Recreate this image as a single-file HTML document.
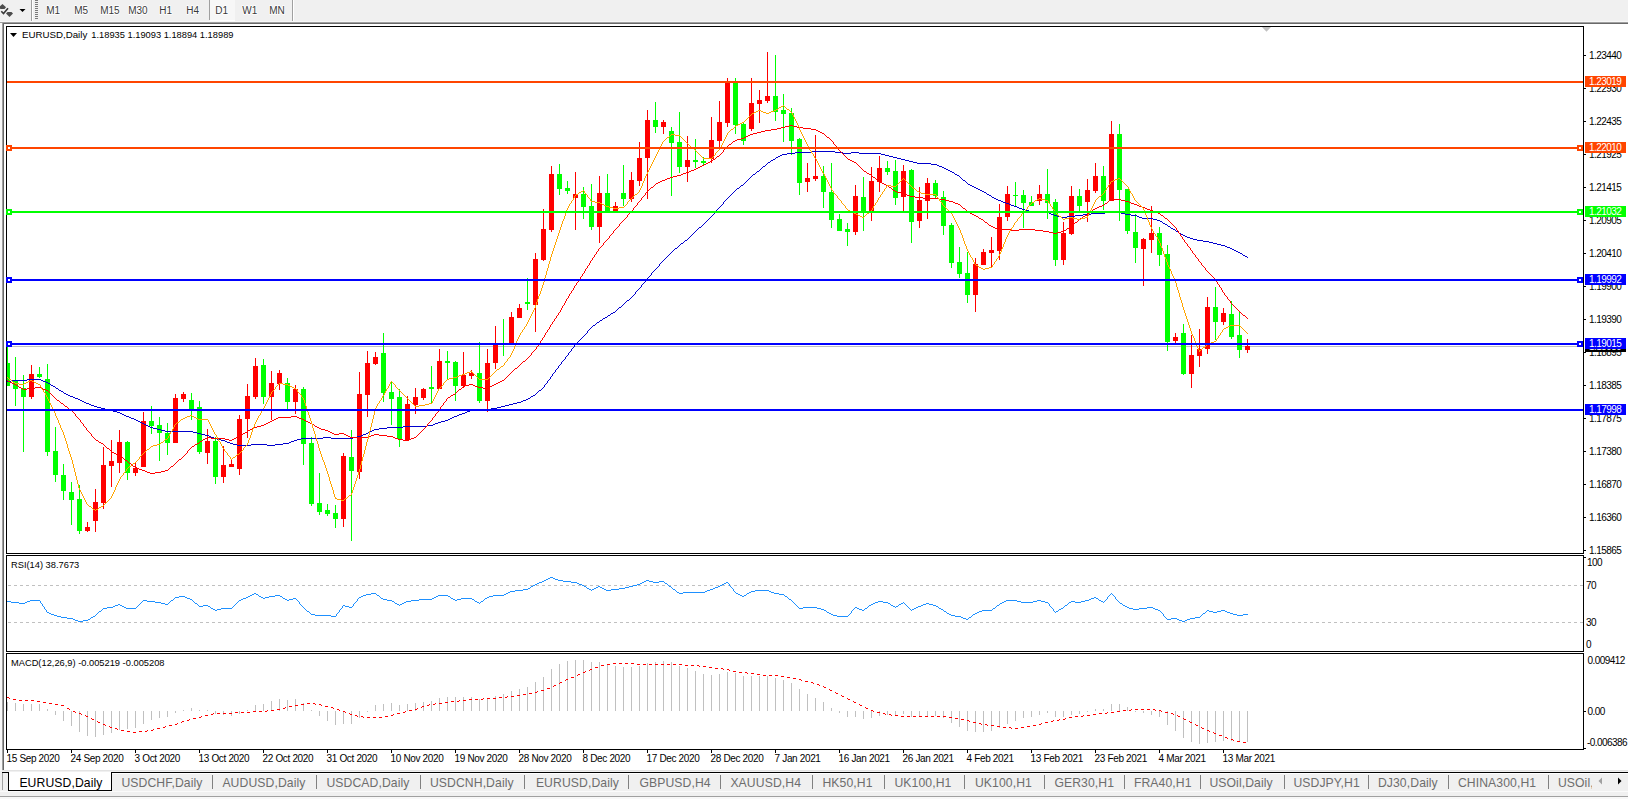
<!DOCTYPE html>
<html><head><meta charset="utf-8"><title>EURUSD,Daily</title>
<style>
html,body{margin:0;padding:0;}
body{width:1628px;height:799px;overflow:hidden;position:relative;background:#f0f0f0;font-family:"Liberation Sans", Arial, sans-serif;}
</style></head><body>
<svg width="1628" height="799" viewBox="0 0 1628 799" style="position:absolute;left:0;top:0"><g shape-rendering="crispEdges"><rect x="0" y="0" width="1628" height="799" fill="#f0f0f0"/><rect x="0" y="21" width="1628" height="1" fill="#f7f7f7"/><rect x="0" y="22" width="1628" height="1" fill="#a0a0a0"/><rect x="3" y="23" width="1625" height="1" fill="#696969"/><rect x="0" y="23" width="2" height="748" fill="#f8f8f8"/><rect x="2" y="22" width="1" height="748" fill="#a0a0a0"/><rect x="3" y="23" width="1" height="747" fill="#696969"/><rect x="4" y="24" width="1624" height="746" fill="#ffffff"/><rect x="2" y="770" width="1626" height="1" fill="#e3e3e3"/><rect x="31" y="0" width="1" height="21" fill="#a0a0a0"/><rect x="32" y="0" width="1" height="21" fill="#ffffff"/><rect x="35" y="0" width="3" height="1" fill="#7a7a7a"/><rect x="35" y="2" width="3" height="1" fill="#7a7a7a"/><rect x="35" y="4" width="3" height="1" fill="#7a7a7a"/><rect x="35" y="6" width="3" height="1" fill="#7a7a7a"/><rect x="35" y="8" width="3" height="1" fill="#7a7a7a"/><rect x="35" y="10" width="3" height="1" fill="#7a7a7a"/><rect x="35" y="12" width="3" height="1" fill="#7a7a7a"/><rect x="35" y="14" width="3" height="1" fill="#7a7a7a"/><rect x="35" y="16" width="3" height="1" fill="#7a7a7a"/><rect x="35" y="18" width="3" height="1" fill="#7a7a7a"/><rect x="209" y="0" width="1" height="20" fill="#a0a0a0"/><rect x="210" y="0" width="25" height="20" fill="#f7f7f7"/><rect x="210" y="20" width="25" height="1" fill="#ffffff"/><rect x="292" y="0" width="1" height="21" fill="#a0a0a0"/><rect x="293" y="0" width="1" height="21" fill="#ffffff"/></g><g fill="#4d4d4d"><polygon points="2.5,4 6,7.3 4.5,9 0.5,9 -1,7.3"/><polygon points="9.5,17 6,13.5 7.5,12 11.5,12 13,13.5"/></g><polyline points="1.3,11.3 3.5,13.6 8,8.3" fill="none" stroke="#3a3a3a" stroke-width="1.6"/><polygon points="19.5,9 25.5,9 22.5,12" fill="#000"/><g font-family='"Liberation Sans", Arial, sans-serif' font-size="10" fill="#3a3a3a" stroke="#fff" stroke-width="1.6" stroke-linejoin="round" paint-order="stroke"><text x="46.2" y="14">M1</text><text x="74.2" y="14">M5</text><text x="100.2" y="14">M15</text><text x="128.2" y="14">M30</text><text x="159.2" y="14">H1</text><text x="186.2" y="14">H4</text><text x="215.2" y="14">D1</text><text x="242.2" y="14">W1</text><text x="269.2" y="14">MN</text></g><g shape-rendering="crispEdges"><rect x="2" y="772" width="1626" height="1" fill="#000"/><rect x="2" y="773" width="1" height="17" fill="#a0a0a0"/><rect x="112" y="773" width="1516" height="1" fill="#ffffff"/><rect x="9" y="772" width="102" height="18" fill="#ffffff"/><rect x="8" y="772" width="1" height="19" fill="#000"/><rect x="111" y="772" width="1" height="19" fill="#000"/><rect x="8" y="790" width="104" height="1" fill="#000"/><rect x="0" y="791" width="1628" height="1" fill="#fafafa"/><rect x="0" y="796" width="1628" height="1" fill="#a0a0a0"/><rect x="0" y="797" width="1628" height="2" fill="#f8f8f8"/><rect x="212" y="775" width="1" height="14" fill="#808080"/><rect x="316" y="775" width="1" height="14" fill="#808080"/><rect x="420" y="775" width="1" height="14" fill="#808080"/><rect x="524" y="775" width="1" height="14" fill="#808080"/><rect x="628" y="775" width="1" height="14" fill="#808080"/><rect x="720" y="775" width="1" height="14" fill="#808080"/><rect x="812" y="775" width="1" height="14" fill="#808080"/><rect x="884" y="775" width="1" height="14" fill="#808080"/><rect x="964" y="775" width="1" height="14" fill="#808080"/><rect x="1044" y="775" width="1" height="14" fill="#808080"/><rect x="1124" y="775" width="1" height="14" fill="#808080"/><rect x="1200" y="775" width="1" height="14" fill="#808080"/><rect x="1284" y="775" width="1" height="14" fill="#808080"/><rect x="1368" y="775" width="1" height="14" fill="#808080"/><rect x="1448" y="775" width="1" height="14" fill="#808080"/><rect x="1548" y="775" width="1" height="14" fill="#808080"/></g><g font-family='"Liberation Sans", Arial, sans-serif' font-size="12.2" letter-spacing="0.1"><text x="19.4" y="787" fill="#000">EURUSD,Daily</text><text x="121.4" y="787" fill="#6d6d6d">USDCHF,Daily</text><text x="222.4" y="787" fill="#6d6d6d">AUDUSD,Daily</text><text x="326.4" y="787" fill="#6d6d6d">USDCAD,Daily</text><text x="429.9" y="787" fill="#6d6d6d">USDCNH,Daily</text><text x="535.9" y="787" fill="#6d6d6d">EURUSD,Daily</text><text x="639.4" y="787" fill="#6d6d6d">GBPUSD,H4</text><text x="730.4" y="787" fill="#6d6d6d">XAUUSD,H4</text><text x="822.4" y="787" fill="#6d6d6d">HK50,H1</text><text x="894.4" y="787" fill="#6d6d6d">UK100,H1</text><text x="974.9" y="787" fill="#6d6d6d">UK100,H1</text><text x="1054.4" y="787" fill="#6d6d6d">GER30,H1</text><text x="1133.9" y="787" fill="#6d6d6d">FRA40,H1</text><text x="1209.4" y="787" fill="#6d6d6d">USOil,Daily</text><text x="1293.4" y="787" fill="#6d6d6d">USDJPY,H1</text><text x="1377.9" y="787" fill="#6d6d6d">DJ30,Daily</text><text x="1457.9" y="787" fill="#6d6d6d">CHINA300,H1</text><text x="1557.9" y="787" fill="#6d6d6d">USOil,Daily</text></g><rect x="1592" y="774" width="36" height="16" fill="#f0f0f0"/><polygon points="1602,777.5 1602,784.5 1598.5,781" fill="#a0a0a0"/><polygon points="1618,777.5 1618,784.5 1621.5,781" fill="#000"/><defs><clipPath id="cm"><rect x="7" y="27" width="1576" height="526"/></clipPath><clipPath id="cr"><rect x="7" y="556" width="1576" height="95"/></clipPath><clipPath id="cd"><rect x="7" y="654" width="1576" height="95"/></clipPath></defs><g fill="#000" shape-rendering="crispEdges"><rect x="6" y="26" width="1578" height="1"/><rect x="6" y="553" width="1578" height="1"/><rect x="6" y="26" width="1" height="528"/><rect x="1583" y="26" width="1" height="528"/><rect x="6" y="555" width="1578" height="1"/><rect x="6" y="651" width="1578" height="1"/><rect x="6" y="555" width="1" height="97"/><rect x="1583" y="555" width="1" height="97"/><rect x="6" y="653" width="1578" height="1"/><rect x="6" y="749" width="1578" height="1"/><rect x="6" y="653" width="1" height="97"/><rect x="1583" y="653" width="1" height="97"/></g><g clip-path="url(#cm)" shape-rendering="crispEdges"><rect x="7" y="346" width="1576" height="1" fill="#c0c0c0"/><rect x="7" y="344" width="1" height="42" fill="#00ff00"/><rect x="5" y="363" width="5" height="23" fill="#00ff00"/><rect x="15" y="357" width="1" height="49" fill="#00ff00"/><rect x="13" y="381" width="5" height="8" fill="#00ff00"/><rect x="23" y="375" width="1" height="77" fill="#00ff00"/><rect x="21" y="388" width="5" height="9" fill="#00ff00"/><rect x="31" y="365" width="1" height="34" fill="#ff0000"/><rect x="29" y="374" width="5" height="23" fill="#ff0000"/><rect x="39" y="367" width="1" height="11" fill="#00ff00"/><rect x="37" y="374" width="5" height="3" fill="#00ff00"/><rect x="47" y="364" width="1" height="92" fill="#00ff00"/><rect x="45" y="379" width="5" height="73" fill="#00ff00"/><rect x="55" y="427" width="1" height="55" fill="#00ff00"/><rect x="53" y="451" width="5" height="24" fill="#00ff00"/><rect x="63" y="464" width="1" height="36" fill="#00ff00"/><rect x="61" y="475" width="5" height="16" fill="#00ff00"/><rect x="71" y="482" width="1" height="43" fill="#00ff00"/><rect x="69" y="492" width="5" height="8" fill="#00ff00"/><rect x="79" y="485" width="1" height="49" fill="#00ff00"/><rect x="77" y="499" width="5" height="32" fill="#00ff00"/><rect x="87" y="522" width="1" height="10" fill="#ff0000"/><rect x="85" y="527" width="5" height="4" fill="#ff0000"/><rect x="95" y="489" width="1" height="43" fill="#ff0000"/><rect x="93" y="502" width="5" height="19" fill="#ff0000"/><rect x="103" y="447" width="1" height="62" fill="#ff0000"/><rect x="101" y="465" width="5" height="38" fill="#ff0000"/><rect x="111" y="440" width="1" height="47" fill="#ff0000"/><rect x="109" y="461" width="5" height="5" fill="#ff0000"/><rect x="119" y="430" width="1" height="43" fill="#ff0000"/><rect x="117" y="442" width="5" height="21" fill="#ff0000"/><rect x="127" y="441" width="1" height="39" fill="#00ff00"/><rect x="125" y="442" width="5" height="31" fill="#00ff00"/><rect x="135" y="463" width="1" height="13" fill="#ff0000"/><rect x="133" y="468" width="5" height="5" fill="#ff0000"/><rect x="143" y="412" width="1" height="55" fill="#ff0000"/><rect x="141" y="421" width="5" height="46" fill="#ff0000"/><rect x="151" y="406" width="1" height="28" fill="#00ff00"/><rect x="149" y="421" width="5" height="5" fill="#00ff00"/><rect x="159" y="417" width="1" height="44" fill="#00ff00"/><rect x="157" y="425" width="5" height="8" fill="#00ff00"/><rect x="167" y="423" width="1" height="32" fill="#00ff00"/><rect x="165" y="433" width="5" height="10" fill="#00ff00"/><rect x="175" y="394" width="1" height="49" fill="#ff0000"/><rect x="173" y="398" width="5" height="45" fill="#ff0000"/><rect x="183" y="392" width="1" height="10" fill="#ff0000"/><rect x="181" y="394" width="5" height="5" fill="#ff0000"/><rect x="191" y="393" width="1" height="27" fill="#00ff00"/><rect x="189" y="400" width="5" height="10" fill="#00ff00"/><rect x="199" y="401" width="1" height="53" fill="#00ff00"/><rect x="197" y="407" width="5" height="45" fill="#00ff00"/><rect x="207" y="429" width="1" height="35" fill="#ff0000"/><rect x="205" y="441" width="5" height="12" fill="#ff0000"/><rect x="215" y="437" width="1" height="47" fill="#00ff00"/><rect x="213" y="441" width="5" height="36" fill="#00ff00"/><rect x="223" y="446" width="1" height="37" fill="#ff0000"/><rect x="221" y="465" width="5" height="12" fill="#ff0000"/><rect x="231" y="459" width="1" height="8" fill="#ff0000"/><rect x="229" y="464" width="5" height="3" fill="#ff0000"/><rect x="239" y="415" width="1" height="60" fill="#ff0000"/><rect x="237" y="419" width="5" height="50" fill="#ff0000"/><rect x="247" y="384" width="1" height="54" fill="#ff0000"/><rect x="245" y="396" width="5" height="23" fill="#ff0000"/><rect x="255" y="358" width="1" height="41" fill="#ff0000"/><rect x="253" y="366" width="5" height="31" fill="#ff0000"/><rect x="263" y="359" width="1" height="45" fill="#00ff00"/><rect x="261" y="365" width="5" height="32" fill="#00ff00"/><rect x="271" y="371" width="1" height="49" fill="#ff0000"/><rect x="269" y="383" width="5" height="14" fill="#ff0000"/><rect x="279" y="370" width="1" height="20" fill="#ff0000"/><rect x="277" y="373" width="5" height="11" fill="#ff0000"/><rect x="287" y="378" width="1" height="31" fill="#00ff00"/><rect x="285" y="383" width="5" height="19" fill="#00ff00"/><rect x="295" y="385" width="1" height="29" fill="#ff0000"/><rect x="293" y="389" width="5" height="13" fill="#ff0000"/><rect x="303" y="387" width="1" height="78" fill="#00ff00"/><rect x="301" y="389" width="5" height="55" fill="#00ff00"/><rect x="311" y="437" width="1" height="69" fill="#00ff00"/><rect x="309" y="443" width="5" height="61" fill="#00ff00"/><rect x="319" y="473" width="1" height="42" fill="#00ff00"/><rect x="317" y="503" width="5" height="9" fill="#00ff00"/><rect x="327" y="504" width="1" height="12" fill="#00ff00"/><rect x="325" y="510" width="5" height="4" fill="#00ff00"/><rect x="335" y="505" width="1" height="23" fill="#00ff00"/><rect x="333" y="513" width="5" height="6" fill="#00ff00"/><rect x="343" y="453" width="1" height="74" fill="#ff0000"/><rect x="341" y="456" width="5" height="63" fill="#ff0000"/><rect x="351" y="430" width="1" height="111" fill="#00ff00"/><rect x="349" y="457" width="5" height="14" fill="#00ff00"/><rect x="359" y="372" width="1" height="107" fill="#ff0000"/><rect x="357" y="394" width="5" height="78" fill="#ff0000"/><rect x="367" y="351" width="1" height="66" fill="#ff0000"/><rect x="365" y="363" width="5" height="32" fill="#ff0000"/><rect x="375" y="352" width="1" height="13" fill="#ff0000"/><rect x="373" y="357" width="5" height="7" fill="#ff0000"/><rect x="383" y="333" width="1" height="69" fill="#00ff00"/><rect x="381" y="353" width="5" height="40" fill="#00ff00"/><rect x="391" y="381" width="1" height="44" fill="#00ff00"/><rect x="389" y="392" width="5" height="7" fill="#00ff00"/><rect x="399" y="389" width="1" height="58" fill="#00ff00"/><rect x="397" y="397" width="5" height="42" fill="#00ff00"/><rect x="407" y="396" width="1" height="45" fill="#ff0000"/><rect x="405" y="404" width="5" height="36" fill="#ff0000"/><rect x="415" y="388" width="1" height="26" fill="#ff0000"/><rect x="413" y="397" width="5" height="8" fill="#ff0000"/><rect x="423" y="388" width="1" height="12" fill="#ff0000"/><rect x="421" y="389" width="5" height="9" fill="#ff0000"/><rect x="431" y="366" width="1" height="37" fill="#00ff00"/><rect x="429" y="387" width="5" height="2" fill="#00ff00"/><rect x="439" y="349" width="1" height="40" fill="#ff0000"/><rect x="437" y="361" width="5" height="28" fill="#ff0000"/><rect x="447" y="351" width="1" height="28" fill="#00ff00"/><rect x="445" y="361" width="5" height="2" fill="#00ff00"/><rect x="455" y="361" width="1" height="40" fill="#00ff00"/><rect x="453" y="362" width="5" height="24" fill="#00ff00"/><rect x="463" y="352" width="1" height="36" fill="#ff0000"/><rect x="461" y="375" width="5" height="11" fill="#ff0000"/><rect x="471" y="370" width="1" height="9" fill="#ff0000"/><rect x="469" y="373" width="5" height="3" fill="#ff0000"/><rect x="479" y="342" width="1" height="61" fill="#00ff00"/><rect x="477" y="373" width="5" height="28" fill="#00ff00"/><rect x="487" y="349" width="1" height="63" fill="#ff0000"/><rect x="485" y="363" width="5" height="38" fill="#ff0000"/><rect x="495" y="326" width="1" height="43" fill="#ff0000"/><rect x="493" y="344" width="5" height="19" fill="#ff0000"/><rect x="503" y="319" width="1" height="37" fill="#00ff00"/><rect x="501" y="343" width="5" height="2" fill="#00ff00"/><rect x="511" y="312" width="1" height="33" fill="#ff0000"/><rect x="509" y="317" width="5" height="28" fill="#ff0000"/><rect x="519" y="304" width="1" height="14" fill="#ff0000"/><rect x="517" y="308" width="5" height="10" fill="#ff0000"/><rect x="527" y="278" width="1" height="32" fill="#00ff00"/><rect x="525" y="302" width="5" height="2" fill="#00ff00"/><rect x="535" y="253" width="1" height="79" fill="#ff0000"/><rect x="533" y="259" width="5" height="46" fill="#ff0000"/><rect x="543" y="209" width="1" height="52" fill="#ff0000"/><rect x="541" y="229" width="5" height="31" fill="#ff0000"/><rect x="551" y="166" width="1" height="66" fill="#ff0000"/><rect x="549" y="174" width="5" height="56" fill="#ff0000"/><rect x="559" y="164" width="1" height="31" fill="#00ff00"/><rect x="557" y="174" width="5" height="15" fill="#00ff00"/><rect x="567" y="181" width="1" height="13" fill="#00ff00"/><rect x="565" y="188" width="5" height="3" fill="#00ff00"/><rect x="575" y="172" width="1" height="58" fill="#ff0000"/><rect x="573" y="194" width="5" height="4" fill="#ff0000"/><rect x="583" y="187" width="1" height="32" fill="#00ff00"/><rect x="581" y="194" width="5" height="13" fill="#00ff00"/><rect x="591" y="184" width="1" height="46" fill="#00ff00"/><rect x="589" y="206" width="5" height="21" fill="#00ff00"/><rect x="599" y="176" width="1" height="67" fill="#ff0000"/><rect x="597" y="193" width="5" height="34" fill="#ff0000"/><rect x="607" y="174" width="1" height="38" fill="#00ff00"/><rect x="605" y="193" width="5" height="19" fill="#00ff00"/><rect x="615" y="202" width="1" height="9" fill="#ff0000"/><rect x="613" y="206" width="5" height="5" fill="#ff0000"/><rect x="623" y="165" width="1" height="41" fill="#00ff00"/><rect x="621" y="193" width="5" height="6" fill="#00ff00"/><rect x="631" y="172" width="1" height="30" fill="#ff0000"/><rect x="629" y="180" width="5" height="19" fill="#ff0000"/><rect x="639" y="142" width="1" height="44" fill="#ff0000"/><rect x="637" y="158" width="5" height="23" fill="#ff0000"/><rect x="647" y="110" width="1" height="89" fill="#ff0000"/><rect x="645" y="120" width="5" height="38" fill="#ff0000"/><rect x="655" y="102" width="1" height="31" fill="#00ff00"/><rect x="653" y="120" width="5" height="7" fill="#00ff00"/><rect x="663" y="120" width="1" height="14" fill="#ff0000"/><rect x="661" y="122" width="5" height="5" fill="#ff0000"/><rect x="671" y="127" width="1" height="69" fill="#00ff00"/><rect x="669" y="131" width="5" height="12" fill="#00ff00"/><rect x="679" y="112" width="1" height="61" fill="#00ff00"/><rect x="677" y="142" width="5" height="25" fill="#00ff00"/><rect x="687" y="136" width="1" height="46" fill="#ff0000"/><rect x="685" y="160" width="5" height="7" fill="#ff0000"/><rect x="695" y="139" width="1" height="29" fill="#00ff00"/><rect x="693" y="160" width="5" height="2" fill="#00ff00"/><rect x="703" y="157" width="1" height="8" fill="#00ff00"/><rect x="701" y="161" width="5" height="2" fill="#00ff00"/><rect x="711" y="117" width="1" height="46" fill="#ff0000"/><rect x="709" y="140" width="5" height="19" fill="#ff0000"/><rect x="719" y="101" width="1" height="47" fill="#ff0000"/><rect x="717" y="122" width="5" height="19" fill="#ff0000"/><rect x="727" y="78" width="1" height="49" fill="#ff0000"/><rect x="725" y="82" width="5" height="41" fill="#ff0000"/><rect x="735" y="78" width="1" height="56" fill="#00ff00"/><rect x="733" y="82" width="5" height="43" fill="#00ff00"/><rect x="743" y="123" width="1" height="22" fill="#00ff00"/><rect x="741" y="124" width="5" height="17" fill="#00ff00"/><rect x="751" y="78" width="1" height="53" fill="#ff0000"/><rect x="749" y="103" width="5" height="26" fill="#ff0000"/><rect x="759" y="90" width="1" height="33" fill="#ff0000"/><rect x="757" y="100" width="5" height="4" fill="#ff0000"/><rect x="767" y="52" width="1" height="51" fill="#ff0000"/><rect x="765" y="96" width="5" height="5" fill="#ff0000"/><rect x="775" y="55" width="1" height="66" fill="#00ff00"/><rect x="773" y="96" width="5" height="16" fill="#00ff00"/><rect x="783" y="94" width="1" height="48" fill="#00ff00"/><rect x="781" y="110" width="5" height="4" fill="#00ff00"/><rect x="791" y="108" width="1" height="47" fill="#00ff00"/><rect x="789" y="113" width="5" height="28" fill="#00ff00"/><rect x="799" y="138" width="1" height="57" fill="#00ff00"/><rect x="797" y="139" width="5" height="44" fill="#00ff00"/><rect x="807" y="163" width="1" height="29" fill="#ff0000"/><rect x="805" y="178" width="5" height="4" fill="#ff0000"/><rect x="815" y="135" width="1" height="46" fill="#ff0000"/><rect x="813" y="176" width="5" height="3" fill="#ff0000"/><rect x="823" y="166" width="1" height="42" fill="#00ff00"/><rect x="821" y="176" width="5" height="16" fill="#00ff00"/><rect x="831" y="163" width="1" height="65" fill="#00ff00"/><rect x="829" y="192" width="5" height="28" fill="#00ff00"/><rect x="839" y="214" width="1" height="17" fill="#00ff00"/><rect x="837" y="219" width="5" height="12" fill="#00ff00"/><rect x="847" y="223" width="1" height="23" fill="#00ff00"/><rect x="845" y="229" width="5" height="3" fill="#00ff00"/><rect x="855" y="185" width="1" height="50" fill="#ff0000"/><rect x="853" y="196" width="5" height="36" fill="#ff0000"/><rect x="863" y="177" width="1" height="54" fill="#00ff00"/><rect x="861" y="197" width="5" height="15" fill="#00ff00"/><rect x="871" y="167" width="1" height="54" fill="#ff0000"/><rect x="869" y="181" width="5" height="31" fill="#ff0000"/><rect x="879" y="156" width="1" height="36" fill="#ff0000"/><rect x="877" y="168" width="5" height="14" fill="#ff0000"/><rect x="887" y="161" width="1" height="14" fill="#00ff00"/><rect x="885" y="168" width="5" height="4" fill="#00ff00"/><rect x="895" y="160" width="1" height="45" fill="#00ff00"/><rect x="893" y="171" width="5" height="27" fill="#00ff00"/><rect x="903" y="165" width="1" height="46" fill="#ff0000"/><rect x="901" y="171" width="5" height="26" fill="#ff0000"/><rect x="911" y="169" width="1" height="74" fill="#00ff00"/><rect x="909" y="170" width="5" height="52" fill="#00ff00"/><rect x="919" y="187" width="1" height="41" fill="#ff0000"/><rect x="917" y="200" width="5" height="21" fill="#ff0000"/><rect x="927" y="178" width="1" height="41" fill="#ff0000"/><rect x="925" y="183" width="5" height="18" fill="#ff0000"/><rect x="935" y="180" width="1" height="18" fill="#00ff00"/><rect x="933" y="183" width="5" height="13" fill="#00ff00"/><rect x="943" y="191" width="1" height="44" fill="#00ff00"/><rect x="941" y="197" width="5" height="29" fill="#00ff00"/><rect x="951" y="223" width="1" height="45" fill="#00ff00"/><rect x="949" y="225" width="5" height="38" fill="#00ff00"/><rect x="959" y="247" width="1" height="31" fill="#00ff00"/><rect x="957" y="262" width="5" height="12" fill="#00ff00"/><rect x="967" y="252" width="1" height="51" fill="#00ff00"/><rect x="965" y="273" width="5" height="22" fill="#00ff00"/><rect x="975" y="258" width="1" height="54" fill="#ff0000"/><rect x="973" y="264" width="5" height="31" fill="#ff0000"/><rect x="983" y="249" width="1" height="16" fill="#ff0000"/><rect x="981" y="252" width="5" height="13" fill="#ff0000"/><rect x="991" y="237" width="1" height="30" fill="#ff0000"/><rect x="989" y="250" width="5" height="3" fill="#ff0000"/><rect x="999" y="204" width="1" height="56" fill="#ff0000"/><rect x="997" y="217" width="5" height="34" fill="#ff0000"/><rect x="1007" y="186" width="1" height="35" fill="#ff0000"/><rect x="1005" y="194" width="5" height="23" fill="#ff0000"/><rect x="1015" y="182" width="1" height="24" fill="#00ff00"/><rect x="1013" y="195" width="5" height="1" fill="#00ff00"/><rect x="1023" y="190" width="1" height="38" fill="#00ff00"/><rect x="1021" y="195" width="5" height="8" fill="#00ff00"/><rect x="1031" y="196" width="1" height="10" fill="#00ff00"/><rect x="1029" y="202" width="5" height="4" fill="#00ff00"/><rect x="1039" y="185" width="1" height="20" fill="#ff0000"/><rect x="1037" y="194" width="5" height="7" fill="#ff0000"/><rect x="1047" y="169" width="1" height="50" fill="#00ff00"/><rect x="1045" y="194" width="5" height="9" fill="#00ff00"/><rect x="1055" y="199" width="1" height="67" fill="#00ff00"/><rect x="1053" y="202" width="5" height="58" fill="#00ff00"/><rect x="1063" y="222" width="1" height="43" fill="#ff0000"/><rect x="1061" y="233" width="5" height="27" fill="#ff0000"/><rect x="1071" y="186" width="1" height="49" fill="#ff0000"/><rect x="1069" y="196" width="5" height="38" fill="#ff0000"/><rect x="1079" y="189" width="1" height="22" fill="#00ff00"/><rect x="1077" y="196" width="5" height="10" fill="#00ff00"/><rect x="1087" y="179" width="1" height="43" fill="#ff0000"/><rect x="1085" y="190" width="5" height="12" fill="#ff0000"/><rect x="1095" y="163" width="1" height="30" fill="#ff0000"/><rect x="1093" y="176" width="5" height="15" fill="#ff0000"/><rect x="1103" y="166" width="1" height="44" fill="#00ff00"/><rect x="1101" y="176" width="5" height="25" fill="#00ff00"/><rect x="1111" y="121" width="1" height="80" fill="#ff0000"/><rect x="1109" y="134" width="5" height="67" fill="#ff0000"/><rect x="1119" y="124" width="1" height="97" fill="#00ff00"/><rect x="1117" y="134" width="5" height="56" fill="#00ff00"/><rect x="1127" y="189" width="1" height="45" fill="#00ff00"/><rect x="1125" y="189" width="5" height="42" fill="#00ff00"/><rect x="1135" y="214" width="1" height="49" fill="#00ff00"/><rect x="1133" y="232" width="5" height="16" fill="#00ff00"/><rect x="1143" y="238" width="1" height="48" fill="#ff0000"/><rect x="1141" y="239" width="5" height="10" fill="#ff0000"/><rect x="1151" y="206" width="1" height="47" fill="#ff0000"/><rect x="1149" y="233" width="5" height="7" fill="#ff0000"/><rect x="1159" y="227" width="1" height="39" fill="#00ff00"/><rect x="1157" y="233" width="5" height="22" fill="#00ff00"/><rect x="1167" y="245" width="1" height="106" fill="#00ff00"/><rect x="1165" y="254" width="5" height="88" fill="#00ff00"/><rect x="1175" y="333" width="1" height="10" fill="#ff0000"/><rect x="1173" y="337" width="5" height="4" fill="#ff0000"/><rect x="1183" y="324" width="1" height="51" fill="#00ff00"/><rect x="1181" y="333" width="5" height="41" fill="#00ff00"/><rect x="1191" y="335" width="1" height="53" fill="#ff0000"/><rect x="1189" y="355" width="5" height="19" fill="#ff0000"/><rect x="1199" y="329" width="1" height="38" fill="#ff0000"/><rect x="1197" y="349" width="5" height="7" fill="#ff0000"/><rect x="1207" y="297" width="1" height="57" fill="#ff0000"/><rect x="1205" y="307" width="5" height="42" fill="#ff0000"/><rect x="1215" y="287" width="1" height="53" fill="#00ff00"/><rect x="1213" y="307" width="5" height="15" fill="#00ff00"/><rect x="1223" y="308" width="1" height="17" fill="#ff0000"/><rect x="1221" y="313" width="5" height="9" fill="#ff0000"/><rect x="1231" y="301" width="1" height="38" fill="#00ff00"/><rect x="1229" y="314" width="5" height="23" fill="#00ff00"/><rect x="1239" y="311" width="1" height="47" fill="#00ff00"/><rect x="1237" y="335" width="5" height="15" fill="#00ff00"/><rect x="1247" y="339" width="1" height="14" fill="#ff0000"/><rect x="1245" y="346" width="5" height="4" fill="#ff0000"/></g><g clip-path="url(#cm)"><path d="M811 151h24v1h-24zM795 152h16v1h-16zM835 152h8v1h-8zM851 152h8v1h-8zM787 153h8v1h-8zM843 153h8v1h-8zM859 153h22v1h-22zM782 154h5v1h-5zM881 154h4v1h-4zM780 155h2v1h-2zM885 155h4v1h-4zM778 156h2v1h-2zM889 156h4v1h-4zM776 157h2v1h-2zM893 157h4v1h-4zM775 158h1v1h-1zM897 158h4v1h-4zM773 159h2v1h-2zM901 159h4v1h-4zM771 160h2v1h-2zM905 160h4v1h-4zM770 161h1v1h-1zM909 161h4v1h-4zM768 162h2v1h-2zM913 162h4v1h-4zM767 163h1v1h-1zM917 163h14v1h-14zM766 164h1v1h-1zM931 164h6v1h-6zM765 165h1v1h-1zM937 165h2v1h-2zM763 166h2v1h-2zM939 166h3v1h-3zM762 167h1v1h-1zM942 167h2v1h-2zM761 168h1v1h-1zM944 168h2v1h-2zM760 169h1v1h-1zM946 169h2v1h-2zM759 170h1v1h-1zM948 170h2v1h-2zM757 171h2v1h-2zM950 171h2v1h-2zM756 172h1v1h-1zM952 172h2v1h-2zM755 173h1v1h-1zM954 173h1v1h-1zM753 174h2v1h-2zM955 174h2v1h-2zM752 175h1v1h-1zM957 175h2v1h-2zM751 176h1v1h-1zM959 176h1v1h-1zM750 177h1v1h-1zM960 177h1v1h-1zM749 178h1v1h-1zM961 178h1v1h-1zM748 179h1v1h-1zM962 179h1v1h-1zM747 180h1v1h-1zM963 180h2v1h-2zM746 181h1v1h-1zM965 181h1v1h-1zM745 182h1v1h-1zM966 182h1v1h-1zM744 183h1v1h-1zM967 183h1v1h-1zM743 184h1v1h-1zM968 184h2v1h-2zM741 185h2v1h-2zM970 185h2v1h-2zM740 186h1v1h-1zM972 186h2v1h-2zM739 187h1v1h-1zM974 187h2v1h-2zM737 188h2v1h-2zM976 188h2v1h-2zM736 189h1v1h-1zM978 189h2v1h-2zM735 190h1v1h-1zM980 190h2v1h-2zM734 191h1v1h-1zM982 191h2v1h-2zM733 192h1v1h-1zM984 192h2v1h-2zM732 193h1v1h-1zM986 193h1v1h-1zM731 194h1v1h-1zM987 194h2v1h-2zM730 195h1v1h-1zM989 195h2v1h-2zM729 196h1v1h-1zM991 196h1v1h-1zM728 197h1v1h-1zM992 197h2v1h-2zM727 198h1v1h-1zM994 198h2v1h-2zM726 199h1v1h-1zM996 199h2v1h-2zM725 200h1v1h-1zM998 200h3v1h-3zM724 201h1v1h-1zM1001 201h2v1h-2zM723 202h1v1h-1zM1003 202h3v1h-3zM723 203h1v1h-1zM1006 203h3v1h-3zM722 204h1v1h-1zM1009 204h2v1h-2zM721 205h1v1h-1zM1011 205h3v1h-3zM720 206h1v1h-1zM1014 206h3v1h-3zM719 207h1v1h-1zM1017 207h2v1h-2zM718 208h1v1h-1zM1019 208h3v1h-3zM717 209h1v1h-1zM1022 209h3v1h-3zM716 210h1v1h-1zM1025 210h4v1h-4zM715 211h1v1h-1zM1029 211h6v1h-6zM1109 211h6v1h-6zM715 212h1v1h-1zM1035 212h14v1h-14zM1105 212h4v1h-4zM1115 212h6v1h-6zM714 213h1v1h-1zM1049 213h2v1h-2zM1091 213h14v1h-14zM1121 213h4v1h-4zM713 214h1v1h-1zM1051 214h3v1h-3zM1083 214h8v1h-8zM1125 214h6v1h-6zM712 215h1v1h-1zM1054 215h3v1h-3zM1075 215h8v1h-8zM1131 215h6v1h-6zM711 216h1v1h-1zM1057 216h4v1h-4zM1067 216h8v1h-8zM1137 216h2v1h-2zM710 217h1v1h-1zM1061 217h6v1h-6zM1139 217h3v1h-3zM709 218h1v1h-1zM1142 218h11v1h-11zM708 219h1v1h-1zM1153 219h4v1h-4zM707 220h1v1h-1zM1157 220h3v1h-3zM706 221h1v1h-1zM1160 221h2v1h-2zM705 222h1v1h-1zM1162 222h1v1h-1zM704 223h1v1h-1zM1163 223h2v1h-2zM703 224h1v1h-1zM1165 224h2v1h-2zM702 225h1v1h-1zM1167 225h1v1h-1zM701 226h1v1h-1zM1168 226h2v1h-2zM699 227h2v1h-2zM1170 227h1v1h-1zM698 228h1v1h-1zM1171 228h2v1h-2zM697 229h1v1h-1zM1173 229h2v1h-2zM696 230h1v1h-1zM1175 230h1v1h-1zM695 231h1v1h-1zM1176 231h2v1h-2zM694 232h1v1h-1zM1178 232h1v1h-1zM693 233h1v1h-1zM1179 233h2v1h-2zM692 234h1v1h-1zM1181 234h2v1h-2zM691 235h1v1h-1zM1183 235h2v1h-2zM690 236h1v1h-1zM1185 236h2v1h-2zM689 237h1v1h-1zM1187 237h3v1h-3zM688 238h1v1h-1zM1190 238h3v1h-3zM687 239h1v1h-1zM1193 239h4v1h-4zM685 240h2v1h-2zM1197 240h6v1h-6zM684 241h1v1h-1zM1203 241h6v1h-6zM683 242h1v1h-1zM1209 242h4v1h-4zM681 243h2v1h-2zM1213 243h4v1h-4zM680 244h1v1h-1zM1217 244h4v1h-4zM679 245h1v1h-1zM1221 245h4v1h-4zM678 246h1v1h-1zM1225 246h2v1h-2zM677 247h1v1h-1zM1227 247h3v1h-3zM675 248h2v1h-2zM1230 248h2v1h-2zM674 249h1v1h-1zM1232 249h2v1h-2zM673 250h1v1h-1zM1234 250h2v1h-2zM672 251h1v1h-1zM1236 251h2v1h-2zM671 252h1v1h-1zM1238 252h2v1h-2zM670 253h1v1h-1zM1240 253h2v1h-2zM669 254h1v1h-1zM1242 254h1v1h-1zM668 255h1v1h-1zM1243 255h2v1h-2zM667 256h1v1h-1zM1245 256h2v1h-2zM666 257h1v1h-1zM1247 257h1v1h-1zM665 258h1v1h-1zM664 259h1v1h-1zM663 260h1v1h-1zM662 261h1v1h-1zM661 262h1v1h-1zM660 263h1v1h-1zM659 264h1v1h-1zM659 265h1v1h-1zM658 266h1v1h-1zM657 267h1v1h-1zM656 268h1v1h-1zM655 269h1v1h-1zM654 270h1v1h-1zM653 271h1v1h-1zM652 272h1v1h-1zM651 273h1v1h-1zM651 274h1v1h-1zM650 275h1v1h-1zM649 276h1v1h-1zM648 277h1v1h-1zM647 278h1v1h-1zM646 279h1v1h-1zM645 280h1v1h-1zM645 281h1v1h-1zM644 282h1v1h-1zM643 283h1v1h-1zM642 284h1v1h-1zM641 285h1v1h-1zM641 286h1v1h-1zM640 287h1v1h-1zM639 288h1v1h-1zM638 289h1v1h-1zM637 290h1v1h-1zM636 291h1v1h-1zM635 292h1v1h-1zM635 293h1v1h-1zM634 294h1v1h-1zM633 295h1v1h-1zM632 296h1v1h-1zM631 297h1v1h-1zM630 298h1v1h-1zM629 299h1v1h-1zM627 300h2v1h-2zM626 301h1v1h-1zM625 302h1v1h-1zM624 303h1v1h-1zM623 304h1v1h-1zM622 305h1v1h-1zM621 306h1v1h-1zM619 307h2v1h-2zM618 308h1v1h-1zM617 309h1v1h-1zM616 310h1v1h-1zM615 311h1v1h-1zM613 312h2v1h-2zM611 313h2v1h-2zM610 314h1v1h-1zM608 315h2v1h-2zM607 316h1v1h-1zM605 317h2v1h-2zM603 318h2v1h-2zM602 319h1v1h-1zM600 320h2v1h-2zM599 321h1v1h-1zM597 322h2v1h-2zM596 323h1v1h-1zM595 324h1v1h-1zM593 325h2v1h-2zM592 326h1v1h-1zM591 327h1v1h-1zM590 328h1v1h-1zM589 329h1v1h-1zM588 330h1v1h-1zM587 331h1v1h-1zM587 332h1v1h-1zM586 333h1v1h-1zM585 334h1v1h-1zM584 335h1v1h-1zM583 336h1v1h-1zM582 337h1v1h-1zM581 338h1v1h-1zM580 339h1v1h-1zM579 340h1v1h-1zM578 341h1v1h-1zM577 342h1v1h-1zM576 343h1v1h-1zM575 344h1v1h-1zM574 345h1v1h-1zM574 346h1v1h-1zM573 347h1v1h-1zM572 348h1v1h-1zM571 349h1v1h-1zM571 350h1v1h-1zM570 351h1v1h-1zM569 352h1v1h-1zM568 353h1v1h-1zM568 354h1v1h-1zM567 355h1v1h-1zM566 356h1v1h-1zM565 357h1v1h-1zM565 358h1v1h-1zM564 359h1v1h-1zM563 360h1v1h-1zM562 361h1v1h-1zM561 362h1v1h-1zM561 363h1v1h-1zM560 364h1v1h-1zM559 365h1v1h-1zM558 366h1v1h-1zM558 367h1v1h-1zM557 368h1v1h-1zM556 369h1v1h-1zM555 370h1v1h-1zM555 371h1v1h-1zM554 372h1v1h-1zM553 373h1v1h-1zM552 374h1v1h-1zM552 375h1v1h-1zM551 376h1v1h-1zM550 377h1v1h-1zM550 378h1v1h-1zM27 379h14v1h-14zM549 379h1v1h-1zM11 380h16v1h-16zM41 380h2v1h-2zM548 380h1v1h-1zM7 381h4v1h-4zM43 381h3v1h-3zM547 381h1v1h-1zM46 382h2v1h-2zM547 382h1v1h-1zM48 383h2v1h-2zM546 383h1v1h-1zM50 384h1v1h-1zM545 384h1v1h-1zM51 385h2v1h-2zM544 385h1v1h-1zM53 386h2v1h-2zM544 386h1v1h-1zM55 387h1v1h-1zM543 387h1v1h-1zM56 388h2v1h-2zM542 388h1v1h-1zM58 389h1v1h-1zM541 389h1v1h-1zM59 390h2v1h-2zM539 390h2v1h-2zM61 391h2v1h-2zM538 391h1v1h-1zM63 392h1v1h-1zM537 392h1v1h-1zM64 393h2v1h-2zM536 393h1v1h-1zM66 394h2v1h-2zM535 394h1v1h-1zM68 395h2v1h-2zM533 395h2v1h-2zM70 396h3v1h-3zM531 396h2v1h-2zM73 397h2v1h-2zM530 397h1v1h-1zM75 398h3v1h-3zM528 398h2v1h-2zM78 399h2v1h-2zM526 399h2v1h-2zM80 400h2v1h-2zM523 400h3v1h-3zM82 401h2v1h-2zM521 401h2v1h-2zM84 402h2v1h-2zM517 402h4v1h-4zM86 403h3v1h-3zM513 403h4v1h-4zM89 404h2v1h-2zM509 404h4v1h-4zM91 405h3v1h-3zM505 405h4v1h-4zM94 406h3v1h-3zM501 406h4v1h-4zM97 407h4v1h-4zM497 407h4v1h-4zM101 408h4v1h-4zM491 408h6v1h-6zM105 409h4v1h-4zM483 409h8v1h-8zM109 410h4v1h-4zM470 410h13v1h-13zM113 411h4v1h-4zM467 411h3v1h-3zM117 412h3v1h-3zM465 412h2v1h-2zM120 413h2v1h-2zM462 413h3v1h-3zM122 414h2v1h-2zM459 414h3v1h-3zM124 415h2v1h-2zM457 415h2v1h-2zM126 416h3v1h-3zM454 416h3v1h-3zM129 417h2v1h-2zM452 417h2v1h-2zM131 418h3v1h-3zM450 418h2v1h-2zM134 419h2v1h-2zM448 419h2v1h-2zM136 420h2v1h-2zM445 420h3v1h-3zM138 421h2v1h-2zM441 421h4v1h-4zM140 422h2v1h-2zM438 422h3v1h-3zM142 423h2v1h-2zM435 423h3v1h-3zM144 424h2v1h-2zM433 424h2v1h-2zM146 425h2v1h-2zM427 425h6v1h-6zM148 426h2v1h-2zM403 426h24v1h-24zM150 427h3v1h-3zM387 427h16v1h-16zM153 428h4v1h-4zM379 428h8v1h-8zM157 429h4v1h-4zM374 429h5v1h-5zM161 430h4v1h-4zM372 430h2v1h-2zM165 431h28v1h-28zM370 431h2v1h-2zM193 432h4v1h-4zM368 432h2v1h-2zM197 433h4v1h-4zM366 433h2v1h-2zM201 434h4v1h-4zM363 434h3v1h-3zM205 435h4v1h-4zM361 435h2v1h-2zM209 436h2v1h-2zM357 436h4v1h-4zM211 437h3v1h-3zM323 437h8v1h-8zM353 437h4v1h-4zM214 438h3v1h-3zM301 438h22v1h-22zM331 438h22v1h-22zM217 439h4v1h-4zM297 439h4v1h-4zM221 440h4v1h-4zM294 440h3v1h-3zM225 441h2v1h-2zM291 441h3v1h-3zM227 442h3v1h-3zM289 442h2v1h-2zM230 443h3v1h-3zM283 443h6v1h-6zM233 444h4v1h-4zM251 444h16v1h-16zM275 444h8v1h-8zM237 445h14v1h-14zM267 445h8v1h-8z" fill="#0000cd" shape-rendering="crispEdges"/><path d="M789 125h4v1h-4zM785 126h4v1h-4zM793 126h4v1h-4zM781 127h4v1h-4zM797 127h6v1h-6zM777 128h4v1h-4zM803 128h8v1h-8zM771 129h6v1h-6zM811 129h5v1h-5zM765 130h6v1h-6zM816 130h2v1h-2zM761 131h4v1h-4zM818 131h2v1h-2zM757 132h4v1h-4zM820 132h2v1h-2zM753 133h4v1h-4zM822 133h2v1h-2zM750 134h3v1h-3zM824 134h1v1h-1zM748 135h2v1h-2zM825 135h1v1h-1zM746 136h2v1h-2zM826 136h1v1h-1zM744 137h2v1h-2zM827 137h2v1h-2zM741 138h3v1h-3zM829 138h1v1h-1zM737 139h4v1h-4zM830 139h1v1h-1zM735 140h2v1h-2zM831 140h1v1h-1zM733 141h2v1h-2zM832 141h1v1h-1zM732 142h1v1h-1zM833 142h1v1h-1zM731 143h1v1h-1zM833 143h1v1h-1zM729 144h2v1h-2zM834 144h1v1h-1zM728 145h1v1h-1zM835 145h1v1h-1zM727 146h1v1h-1zM836 146h1v1h-1zM726 147h1v1h-1zM837 147h1v1h-1zM725 148h1v1h-1zM837 148h1v1h-1zM724 149h1v1h-1zM838 149h1v1h-1zM723 150h1v1h-1zM839 150h1v1h-1zM723 151h1v1h-1zM840 151h1v1h-1zM722 152h1v1h-1zM841 152h1v1h-1zM721 153h1v1h-1zM842 153h1v1h-1zM720 154h1v1h-1zM843 154h1v1h-1zM719 155h1v1h-1zM844 155h1v1h-1zM717 156h2v1h-2zM845 156h1v1h-1zM716 157h1v1h-1zM846 157h1v1h-1zM715 158h1v1h-1zM847 158h1v1h-1zM713 159h2v1h-2zM848 159h2v1h-2zM712 160h1v1h-1zM850 160h2v1h-2zM710 161h2v1h-2zM852 161h2v1h-2zM708 162h2v1h-2zM854 162h2v1h-2zM706 163h2v1h-2zM856 163h1v1h-1zM704 164h2v1h-2zM857 164h1v1h-1zM702 165h2v1h-2zM858 165h1v1h-1zM700 166h2v1h-2zM859 166h1v1h-1zM698 167h2v1h-2zM860 167h1v1h-1zM696 168h2v1h-2zM861 168h1v1h-1zM694 169h2v1h-2zM862 169h1v1h-1zM691 170h3v1h-3zM863 170h1v1h-1zM689 171h2v1h-2zM864 171h2v1h-2zM686 172h3v1h-3zM866 172h1v1h-1zM683 173h3v1h-3zM867 173h2v1h-2zM681 174h2v1h-2zM869 174h2v1h-2zM677 175h4v1h-4zM871 175h1v1h-1zM673 176h4v1h-4zM872 176h1v1h-1zM670 177h3v1h-3zM873 177h2v1h-2zM667 178h3v1h-3zM875 178h1v1h-1zM665 179h2v1h-2zM876 179h1v1h-1zM662 180h3v1h-3zM877 180h2v1h-2zM660 181h2v1h-2zM879 181h1v1h-1zM658 182h2v1h-2zM880 182h2v1h-2zM656 183h2v1h-2zM882 183h2v1h-2zM655 184h1v1h-1zM884 184h2v1h-2zM654 185h1v1h-1zM886 185h2v1h-2zM653 186h1v1h-1zM888 186h1v1h-1zM651 187h2v1h-2zM889 187h2v1h-2zM650 188h1v1h-1zM891 188h1v1h-1zM649 189h1v1h-1zM892 189h1v1h-1zM648 190h1v1h-1zM893 190h2v1h-2zM647 191h1v1h-1zM895 191h2v1h-2zM646 192h1v1h-1zM897 192h4v1h-4zM645 193h1v1h-1zM901 193h4v1h-4zM645 194h1v1h-1zM905 194h2v1h-2zM644 195h1v1h-1zM907 195h3v1h-3zM643 196h1v1h-1zM910 196h5v1h-5zM642 197h1v1h-1zM915 197h8v1h-8zM641 198h1v1h-1zM923 198h16v1h-16zM641 199h1v1h-1zM939 199h6v1h-6zM1111 199h10v1h-10zM640 200h1v1h-1zM945 200h4v1h-4zM1109 200h2v1h-2zM1121 200h4v1h-4zM639 201h1v1h-1zM949 201h4v1h-4zM1108 201h1v1h-1zM1125 201h4v1h-4zM638 202h1v1h-1zM953 202h2v1h-2zM1107 202h1v1h-1zM1129 202h2v1h-2zM637 203h1v1h-1zM955 203h3v1h-3zM1105 203h2v1h-2zM1131 203h3v1h-3zM637 204h1v1h-1zM958 204h2v1h-2zM1104 204h1v1h-1zM1134 204h3v1h-3zM636 205h1v1h-1zM960 205h1v1h-1zM1102 205h2v1h-2zM1137 205h2v1h-2zM635 206h1v1h-1zM961 206h1v1h-1zM1099 206h3v1h-3zM1139 206h3v1h-3zM634 207h1v1h-1zM962 207h1v1h-1zM1097 207h2v1h-2zM1142 207h3v1h-3zM633 208h1v1h-1zM963 208h2v1h-2zM1095 208h2v1h-2zM1145 208h2v1h-2zM633 209h1v1h-1zM965 209h1v1h-1zM1093 209h2v1h-2zM1147 209h3v1h-3zM632 210h1v1h-1zM966 210h1v1h-1zM1092 210h1v1h-1zM1150 210h3v1h-3zM631 211h1v1h-1zM967 211h1v1h-1zM1091 211h1v1h-1zM1153 211h2v1h-2zM630 212h1v1h-1zM968 212h2v1h-2zM1089 212h2v1h-2zM1155 212h3v1h-3zM629 213h1v1h-1zM970 213h2v1h-2zM1088 213h1v1h-1zM1158 213h2v1h-2zM628 214h1v1h-1zM972 214h2v1h-2zM1087 214h1v1h-1zM1160 214h1v1h-1zM627 215h1v1h-1zM974 215h2v1h-2zM1085 215h2v1h-2zM1161 215h2v1h-2zM627 216h1v1h-1zM976 216h2v1h-2zM1083 216h2v1h-2zM1163 216h1v1h-1zM626 217h1v1h-1zM978 217h1v1h-1zM1082 217h1v1h-1zM1164 217h1v1h-1zM625 218h1v1h-1zM979 218h2v1h-2zM1080 218h2v1h-2zM1165 218h2v1h-2zM624 219h1v1h-1zM981 219h2v1h-2zM1079 219h1v1h-1zM1167 219h1v1h-1zM623 220h1v1h-1zM983 220h1v1h-1zM1078 220h1v1h-1zM1168 220h1v1h-1zM622 221h1v1h-1zM984 221h1v1h-1zM1077 221h1v1h-1zM1169 221h1v1h-1zM621 222h1v1h-1zM985 222h2v1h-2zM1075 222h2v1h-2zM1170 222h1v1h-1zM620 223h1v1h-1zM987 223h1v1h-1zM1074 223h1v1h-1zM1171 223h1v1h-1zM619 224h1v1h-1zM988 224h1v1h-1zM1073 224h1v1h-1zM1172 224h1v1h-1zM619 225h1v1h-1zM989 225h2v1h-2zM1072 225h1v1h-1zM1173 225h1v1h-1zM618 226h1v1h-1zM991 226h2v1h-2zM1071 226h1v1h-1zM1174 226h1v1h-1zM617 227h1v1h-1zM993 227h2v1h-2zM1069 227h2v1h-2zM1175 227h1v1h-1zM616 228h1v1h-1zM995 228h3v1h-3zM1067 228h2v1h-2zM1176 228h1v1h-1zM615 229h1v1h-1zM998 229h13v1h-13zM1019 229h16v1h-16zM1066 229h1v1h-1zM1176 229h1v1h-1zM614 230h1v1h-1zM1011 230h8v1h-8zM1035 230h8v1h-8zM1064 230h2v1h-2zM1177 230h1v1h-1zM613 231h1v1h-1zM1043 231h6v1h-6zM1061 231h3v1h-3zM1178 231h1v1h-1zM613 232h1v1h-1zM1049 232h4v1h-4zM1057 232h4v1h-4zM1178 232h1v1h-1zM612 233h1v1h-1zM1053 233h4v1h-4zM1179 233h1v1h-1zM611 234h1v1h-1zM1180 234h1v1h-1zM610 235h1v1h-1zM1180 235h1v1h-1zM609 236h1v1h-1zM1181 236h1v1h-1zM609 237h1v1h-1zM1182 237h1v1h-1zM608 238h1v1h-1zM1182 238h1v1h-1zM607 239h1v1h-1zM1183 239h1v1h-1zM606 240h1v1h-1zM1184 240h1v1h-1zM605 241h1v1h-1zM1184 241h1v1h-1zM604 242h1v1h-1zM1185 242h1v1h-1zM603 243h1v1h-1zM1186 243h1v1h-1zM603 244h1v1h-1zM1187 244h1v1h-1zM602 245h1v1h-1zM1187 245h1v1h-1zM601 246h1v1h-1zM1188 246h1v1h-1zM600 247h1v1h-1zM1189 247h1v1h-1zM599 248h1v1h-1zM1190 248h1v1h-1zM598 249h1v1h-1zM1190 249h1v1h-1zM598 250h1v1h-1zM1191 250h1v1h-1zM597 251h1v1h-1zM1192 251h1v1h-1zM596 252h1v1h-1zM1192 252h1v1h-1zM596 253h1v1h-1zM1193 253h1v1h-1zM595 254h1v1h-1zM1194 254h1v1h-1zM594 255h1v1h-1zM1195 255h1v1h-1zM594 256h1v1h-1zM1195 256h1v1h-1zM593 257h1v1h-1zM1196 257h1v1h-1zM592 258h1v1h-1zM1197 258h1v1h-1zM592 259h1v1h-1zM1198 259h1v1h-1zM591 260h1v1h-1zM1198 260h1v1h-1zM590 261h1v1h-1zM1199 261h1v1h-1zM590 262h1v1h-1zM1200 262h1v1h-1zM589 263h1v1h-1zM1201 263h1v1h-1zM589 264h1v1h-1zM1201 264h1v1h-1zM588 265h1v1h-1zM1202 265h1v1h-1zM587 266h1v1h-1zM1203 266h1v1h-1zM587 267h1v1h-1zM1204 267h1v1h-1zM586 268h1v1h-1zM1205 268h1v1h-1zM585 269h1v1h-1zM1205 269h1v1h-1zM585 270h1v1h-1zM1206 270h1v1h-1zM584 271h1v1h-1zM1207 271h1v1h-1zM584 272h1v1h-1zM1208 272h1v1h-1zM583 273h1v1h-1zM1209 273h1v1h-1zM582 274h1v1h-1zM1210 274h1v1h-1zM582 275h1v1h-1zM1211 275h1v1h-1zM581 276h1v1h-1zM1212 276h1v1h-1zM580 277h1v1h-1zM1213 277h1v1h-1zM580 278h1v1h-1zM1214 278h1v1h-1zM579 279h1v1h-1zM1215 279h1v1h-1zM578 280h1v1h-1zM1216 280h1v1h-1zM578 281h1v1h-1zM1216 281h1v1h-1zM577 282h1v1h-1zM1217 282h1v1h-1zM576 283h1v1h-1zM1217 283h1v1h-1zM576 284h1v1h-1zM1218 284h1v1h-1zM575 285h1v1h-1zM1219 285h1v1h-1zM574 286h1v1h-1zM1219 286h1v1h-1zM574 287h1v1h-1zM1220 287h1v1h-1zM573 288h1v1h-1zM1221 288h1v1h-1zM573 289h1v1h-1zM1221 289h1v1h-1zM572 290h1v1h-1zM1222 290h1v1h-1zM571 291h1v1h-1zM1222 291h1v1h-1zM571 292h1v1h-1zM1223 292h1v1h-1zM570 293h1v1h-1zM1224 293h1v1h-1zM569 294h1v1h-1zM1224 294h1v1h-1zM569 295h1v1h-1zM1225 295h1v1h-1zM568 296h1v1h-1zM1226 296h1v1h-1zM568 297h1v1h-1zM1227 297h1v1h-1zM567 298h1v1h-1zM1227 298h1v1h-1zM566 299h1v1h-1zM1228 299h1v1h-1zM566 300h1v1h-1zM1229 300h1v1h-1zM565 301h1v1h-1zM1230 301h1v1h-1zM565 302h1v1h-1zM1230 302h1v1h-1zM564 303h1v1h-1zM1231 303h1v1h-1zM564 304h1v1h-1zM1232 304h1v1h-1zM563 305h1v1h-1zM1233 305h1v1h-1zM562 306h1v1h-1zM1234 306h1v1h-1zM562 307h1v1h-1zM1235 307h1v1h-1zM561 308h1v1h-1zM1236 308h1v1h-1zM561 309h1v1h-1zM1237 309h1v1h-1zM560 310h1v1h-1zM1238 310h1v1h-1zM560 311h1v1h-1zM1239 311h1v1h-1zM559 312h1v1h-1zM1240 312h1v1h-1zM558 313h1v1h-1zM1241 313h1v1h-1zM558 314h1v1h-1zM1242 314h1v1h-1zM557 315h1v1h-1zM1243 315h2v1h-2zM556 316h1v1h-1zM1245 316h1v1h-1zM556 317h1v1h-1zM1246 317h1v1h-1zM555 318h1v1h-1zM1247 318h1v1h-1zM554 319h1v1h-1zM554 320h1v1h-1zM553 321h1v1h-1zM552 322h1v1h-1zM552 323h1v1h-1zM551 324h1v1h-1zM550 325h1v1h-1zM550 326h1v1h-1zM549 327h1v1h-1zM549 328h1v1h-1zM548 329h1v1h-1zM547 330h1v1h-1zM547 331h1v1h-1zM546 332h1v1h-1zM545 333h1v1h-1zM545 334h1v1h-1zM544 335h1v1h-1zM544 336h1v1h-1zM543 337h1v1h-1zM542 338h1v1h-1zM542 339h1v1h-1zM541 340h1v1h-1zM540 341h1v1h-1zM540 342h1v1h-1zM539 343h1v1h-1zM538 344h1v1h-1zM538 345h1v1h-1zM537 346h1v1h-1zM536 347h1v1h-1zM536 348h1v1h-1zM535 349h1v1h-1zM534 350h1v1h-1zM533 351h1v1h-1zM532 352h1v1h-1zM531 353h1v1h-1zM531 354h1v1h-1zM530 355h1v1h-1zM529 356h1v1h-1zM528 357h1v1h-1zM527 358h1v1h-1zM526 359h1v1h-1zM525 360h1v1h-1zM523 361h2v1h-2zM522 362h1v1h-1zM521 363h1v1h-1zM520 364h1v1h-1zM519 365h1v1h-1zM518 366h1v1h-1zM517 367h1v1h-1zM515 368h2v1h-2zM514 369h1v1h-1zM513 370h1v1h-1zM512 371h1v1h-1zM511 372h1v1h-1zM510 373h1v1h-1zM509 374h1v1h-1zM508 375h1v1h-1zM507 376h1v1h-1zM506 377h1v1h-1zM505 378h1v1h-1zM504 379h1v1h-1zM7 380h1v1h-1zM502 380h2v1h-2zM8 381h2v1h-2zM500 381h2v1h-2zM10 382h2v1h-2zM498 382h2v1h-2zM12 383h2v1h-2zM496 383h2v1h-2zM14 384h2v1h-2zM469 384h4v1h-4zM494 384h2v1h-2zM16 385h2v1h-2zM465 385h4v1h-4zM473 385h2v1h-2zM492 385h2v1h-2zM18 386h1v1h-1zM463 386h2v1h-2zM475 386h3v1h-3zM490 386h2v1h-2zM19 387h2v1h-2zM35 387h6v1h-6zM462 387h1v1h-1zM478 387h5v1h-5zM488 387h2v1h-2zM21 388h2v1h-2zM27 388h8v1h-8zM41 388h2v1h-2zM461 388h1v1h-1zM483 388h5v1h-5zM23 389h4v1h-4zM43 389h3v1h-3zM459 389h2v1h-2zM46 390h2v1h-2zM458 390h1v1h-1zM48 391h1v1h-1zM457 391h1v1h-1zM49 392h1v1h-1zM456 392h1v1h-1zM50 393h1v1h-1zM455 393h1v1h-1zM51 394h1v1h-1zM453 394h2v1h-2zM52 395h1v1h-1zM451 395h2v1h-2zM53 396h1v1h-1zM450 396h1v1h-1zM54 397h1v1h-1zM448 397h2v1h-2zM55 398h1v1h-1zM447 398h1v1h-1zM56 399h1v1h-1zM446 399h1v1h-1zM57 400h2v1h-2zM446 400h1v1h-1zM59 401h1v1h-1zM445 401h1v1h-1zM60 402h1v1h-1zM444 402h1v1h-1zM61 403h2v1h-2zM443 403h1v1h-1zM63 404h1v1h-1zM443 404h1v1h-1zM64 405h1v1h-1zM442 405h1v1h-1zM65 406h2v1h-2zM441 406h1v1h-1zM67 407h1v1h-1zM440 407h1v1h-1zM68 408h1v1h-1zM440 408h1v1h-1zM69 409h2v1h-2zM439 409h1v1h-1zM71 410h1v1h-1zM438 410h1v1h-1zM72 411h1v1h-1zM438 411h1v1h-1zM73 412h1v1h-1zM437 412h1v1h-1zM74 413h1v1h-1zM436 413h1v1h-1zM75 414h1v1h-1zM435 414h1v1h-1zM75 415h1v1h-1zM435 415h1v1h-1zM76 416h1v1h-1zM291 416h6v1h-6zM434 416h1v1h-1zM77 417h1v1h-1zM278 417h13v1h-13zM297 417h2v1h-2zM433 417h1v1h-1zM78 418h1v1h-1zM276 418h2v1h-2zM299 418h3v1h-3zM432 418h1v1h-1zM79 419h1v1h-1zM274 419h2v1h-2zM302 419h2v1h-2zM432 419h1v1h-1zM80 420h1v1h-1zM272 420h2v1h-2zM304 420h2v1h-2zM431 420h1v1h-1zM80 421h1v1h-1zM270 421h2v1h-2zM306 421h2v1h-2zM430 421h1v1h-1zM81 422h1v1h-1zM268 422h2v1h-2zM308 422h2v1h-2zM429 422h1v1h-1zM82 423h1v1h-1zM266 423h2v1h-2zM310 423h2v1h-2zM428 423h1v1h-1zM83 424h1v1h-1zM264 424h2v1h-2zM312 424h2v1h-2zM427 424h1v1h-1zM83 425h1v1h-1zM261 425h3v1h-3zM314 425h1v1h-1zM427 425h1v1h-1zM84 426h1v1h-1zM257 426h4v1h-4zM315 426h2v1h-2zM426 426h1v1h-1zM85 427h1v1h-1zM254 427h3v1h-3zM317 427h2v1h-2zM425 427h1v1h-1zM86 428h1v1h-1zM252 428h2v1h-2zM319 428h2v1h-2zM424 428h1v1h-1zM86 429h1v1h-1zM250 429h2v1h-2zM321 429h4v1h-4zM423 429h1v1h-1zM87 430h1v1h-1zM248 430h2v1h-2zM325 430h3v1h-3zM422 430h1v1h-1zM88 431h1v1h-1zM247 431h1v1h-1zM328 431h2v1h-2zM421 431h1v1h-1zM89 432h1v1h-1zM245 432h2v1h-2zM330 432h2v1h-2zM420 432h1v1h-1zM90 433h1v1h-1zM243 433h2v1h-2zM332 433h2v1h-2zM339 433h5v1h-5zM419 433h1v1h-1zM91 434h1v1h-1zM242 434h1v1h-1zM334 434h5v1h-5zM344 434h2v1h-2zM374 434h5v1h-5zM418 434h1v1h-1zM91 435h1v1h-1zM240 435h2v1h-2zM346 435h2v1h-2zM371 435h3v1h-3zM379 435h8v1h-8zM417 435h1v1h-1zM92 436h1v1h-1zM238 436h2v1h-2zM348 436h2v1h-2zM369 436h2v1h-2zM387 436h6v1h-6zM416 436h1v1h-1zM93 437h1v1h-1zM207 437h4v1h-4zM236 437h2v1h-2zM350 437h19v1h-19zM393 437h2v1h-2zM414 437h2v1h-2zM94 438h1v1h-1zM205 438h2v1h-2zM211 438h14v1h-14zM234 438h2v1h-2zM395 438h3v1h-3zM411 438h3v1h-3zM95 439h1v1h-1zM203 439h2v1h-2zM225 439h4v1h-4zM232 439h2v1h-2zM398 439h5v1h-5zM409 439h2v1h-2zM96 440h2v1h-2zM202 440h1v1h-1zM229 440h3v1h-3zM403 440h6v1h-6zM98 441h1v1h-1zM200 441h2v1h-2zM99 442h2v1h-2zM199 442h1v1h-1zM101 443h2v1h-2zM197 443h2v1h-2zM103 444h1v1h-1zM195 444h2v1h-2zM104 445h1v1h-1zM194 445h1v1h-1zM105 446h1v1h-1zM192 446h2v1h-2zM106 447h1v1h-1zM191 447h1v1h-1zM107 448h2v1h-2zM190 448h1v1h-1zM109 449h1v1h-1zM189 449h1v1h-1zM110 450h1v1h-1zM188 450h1v1h-1zM111 451h1v1h-1zM187 451h1v1h-1zM112 452h2v1h-2zM187 452h1v1h-1zM114 453h2v1h-2zM186 453h1v1h-1zM116 454h2v1h-2zM185 454h1v1h-1zM118 455h2v1h-2zM184 455h1v1h-1zM120 456h1v1h-1zM183 456h1v1h-1zM121 457h2v1h-2zM182 457h1v1h-1zM123 458h1v1h-1zM181 458h1v1h-1zM124 459h1v1h-1zM179 459h2v1h-2zM125 460h2v1h-2zM178 460h1v1h-1zM127 461h1v1h-1zM177 461h1v1h-1zM128 462h1v1h-1zM176 462h1v1h-1zM129 463h2v1h-2zM175 463h1v1h-1zM131 464h1v1h-1zM174 464h1v1h-1zM132 465h1v1h-1zM173 465h1v1h-1zM133 466h2v1h-2zM171 466h2v1h-2zM135 467h2v1h-2zM170 467h1v1h-1zM137 468h2v1h-2zM169 468h1v1h-1zM139 469h3v1h-3zM168 469h1v1h-1zM142 470h3v1h-3zM165 470h3v1h-3zM145 471h2v1h-2zM161 471h4v1h-4zM147 472h3v1h-3zM155 472h6v1h-6zM150 473h5v1h-5z" fill="#ff0000" shape-rendering="crispEdges"/><path d="M783 105h1v1h-1zM781 106h2v1h-2zM784 106h1v1h-1zM779 107h2v1h-2zM785 107h1v1h-1zM778 108h1v1h-1zM786 108h1v1h-1zM776 109h2v1h-2zM787 109h2v1h-2zM758 110h3v1h-3zM774 110h2v1h-2zM789 110h1v1h-1zM756 111h2v1h-2zM761 111h2v1h-2zM771 111h3v1h-3zM790 111h1v1h-1zM754 112h2v1h-2zM763 112h3v1h-3zM769 112h2v1h-2zM791 112h1v1h-1zM752 113h2v1h-2zM766 113h3v1h-3zM792 113h1v1h-1zM751 114h1v1h-1zM792 114h1v1h-1zM750 115h1v1h-1zM793 115h1v1h-1zM749 116h1v1h-1zM793 116h1v1h-1zM748 117h1v1h-1zM794 117h1v1h-1zM747 118h1v1h-1zM794 118h1v1h-1zM746 119h1v1h-1zM795 119h1v1h-1zM745 120h1v1h-1zM795 120h1v1h-1zM744 121h1v1h-1zM796 121h1v1h-1zM742 122h2v1h-2zM796 122h1v1h-1zM740 123h2v1h-2zM797 123h1v1h-1zM738 124h2v1h-2zM797 124h1v1h-1zM736 125h2v1h-2zM798 125h1v1h-1zM735 126h1v1h-1zM798 126h1v1h-1zM734 127h1v1h-1zM799 127h1v1h-1zM733 128h1v1h-1zM799 128h1v1h-1zM731 129h2v1h-2zM799 129h1v1h-1zM730 130h1v1h-1zM800 130h1v1h-1zM729 131h1v1h-1zM800 131h1v1h-1zM728 132h1v1h-1zM801 132h1v1h-1zM727 133h1v1h-1zM801 133h1v1h-1zM671 134h4v1h-4zM727 134h1v1h-1zM802 134h1v1h-1zM670 135h1v1h-1zM675 135h5v1h-5zM726 135h1v1h-1zM802 135h1v1h-1zM669 136h1v1h-1zM680 136h1v1h-1zM726 136h1v1h-1zM803 136h1v1h-1zM667 137h2v1h-2zM681 137h1v1h-1zM725 137h1v1h-1zM803 137h1v1h-1zM666 138h1v1h-1zM682 138h1v1h-1zM725 138h1v1h-1zM804 138h1v1h-1zM665 139h1v1h-1zM683 139h1v1h-1zM724 139h1v1h-1zM804 139h1v1h-1zM664 140h1v1h-1zM684 140h1v1h-1zM724 140h1v1h-1zM805 140h1v1h-1zM663 141h1v1h-1zM685 141h1v1h-1zM723 141h1v1h-1zM805 141h1v1h-1zM662 142h1v1h-1zM686 142h1v1h-1zM723 142h1v1h-1zM806 142h1v1h-1zM662 143h1v1h-1zM687 143h1v1h-1zM722 143h1v1h-1zM806 143h1v1h-1zM661 144h1v1h-1zM688 144h1v1h-1zM722 144h1v1h-1zM807 144h1v1h-1zM661 145h1v1h-1zM689 145h1v1h-1zM721 145h1v1h-1zM807 145h1v1h-1zM660 146h1v1h-1zM690 146h1v1h-1zM721 146h1v1h-1zM808 146h1v1h-1zM660 147h1v1h-1zM691 147h2v1h-2zM720 147h1v1h-1zM808 147h1v1h-1zM659 148h1v1h-1zM693 148h1v1h-1zM720 148h1v1h-1zM809 148h1v1h-1zM659 149h1v1h-1zM694 149h1v1h-1zM719 149h1v1h-1zM809 149h1v1h-1zM658 150h1v1h-1zM695 150h1v1h-1zM718 150h1v1h-1zM810 150h1v1h-1zM658 151h1v1h-1zM696 151h1v1h-1zM717 151h1v1h-1zM811 151h1v1h-1zM657 152h1v1h-1zM697 152h1v1h-1zM716 152h1v1h-1zM811 152h1v1h-1zM657 153h1v1h-1zM698 153h1v1h-1zM715 153h1v1h-1zM812 153h1v1h-1zM656 154h1v1h-1zM699 154h1v1h-1zM715 154h1v1h-1zM813 154h1v1h-1zM656 155h1v1h-1zM700 155h1v1h-1zM714 155h1v1h-1zM813 155h1v1h-1zM655 156h1v1h-1zM701 156h1v1h-1zM713 156h1v1h-1zM814 156h1v1h-1zM655 157h1v1h-1zM702 157h1v1h-1zM712 157h1v1h-1zM814 157h1v1h-1zM654 158h1v1h-1zM703 158h9v1h-9zM815 158h1v1h-1zM654 159h1v1h-1zM816 159h1v1h-1zM653 160h1v1h-1zM816 160h1v1h-1zM653 161h1v1h-1zM817 161h1v1h-1zM652 162h1v1h-1zM817 162h1v1h-1zM652 163h1v1h-1zM818 163h1v1h-1zM651 164h1v1h-1zM818 164h1v1h-1zM651 165h1v1h-1zM819 165h1v1h-1zM650 166h1v1h-1zM819 166h1v1h-1zM650 167h1v1h-1zM820 167h1v1h-1zM649 168h1v1h-1zM820 168h1v1h-1zM649 169h1v1h-1zM821 169h1v1h-1zM648 170h1v1h-1zM821 170h1v1h-1zM648 171h1v1h-1zM822 171h1v1h-1zM647 172h1v1h-1zM822 172h1v1h-1zM647 173h1v1h-1zM823 173h1v1h-1zM646 174h1v1h-1zM824 174h1v1h-1zM646 175h1v1h-1zM824 175h1v1h-1zM645 176h1v1h-1zM825 176h1v1h-1zM645 177h1v1h-1zM825 177h1v1h-1zM644 178h1v1h-1zM826 178h1v1h-1zM903 178h1v1h-1zM1118 178h2v1h-2zM644 179h1v1h-1zM826 179h1v1h-1zM902 179h1v1h-1zM904 179h1v1h-1zM1115 179h3v1h-3zM1120 179h1v1h-1zM644 180h1v1h-1zM827 180h1v1h-1zM901 180h1v1h-1zM905 180h1v1h-1zM1113 180h2v1h-2zM1121 180h1v1h-1zM643 181h1v1h-1zM827 181h1v1h-1zM900 181h1v1h-1zM906 181h1v1h-1zM1111 181h2v1h-2zM1122 181h1v1h-1zM643 182h1v1h-1zM828 182h1v1h-1zM899 182h1v1h-1zM907 182h1v1h-1zM1110 182h1v1h-1zM1123 182h1v1h-1zM642 183h1v1h-1zM828 183h1v1h-1zM898 183h1v1h-1zM908 183h1v1h-1zM1110 183h1v1h-1zM1124 183h1v1h-1zM642 184h1v1h-1zM829 184h1v1h-1zM897 184h1v1h-1zM909 184h1v1h-1zM1109 184h1v1h-1zM1125 184h1v1h-1zM642 185h1v1h-1zM829 185h1v1h-1zM887 185h4v1h-4zM896 185h1v1h-1zM910 185h1v1h-1zM1108 185h1v1h-1zM1126 185h1v1h-1zM641 186h1v1h-1zM830 186h1v1h-1zM886 186h1v1h-1zM891 186h5v1h-5zM911 186h1v1h-1zM1108 186h1v1h-1zM1127 186h1v1h-1zM641 187h1v1h-1zM830 187h1v1h-1zM886 187h1v1h-1zM912 187h1v1h-1zM1107 187h1v1h-1zM1128 187h1v1h-1zM640 188h1v1h-1zM831 188h1v1h-1zM885 188h1v1h-1zM913 188h2v1h-2zM1106 188h1v1h-1zM1128 188h1v1h-1zM640 189h1v1h-1zM831 189h1v1h-1zM884 189h1v1h-1zM915 189h1v1h-1zM1106 189h1v1h-1zM1129 189h1v1h-1zM583 190h1v1h-1zM639 190h1v1h-1zM832 190h1v1h-1zM884 190h1v1h-1zM916 190h1v1h-1zM1105 190h1v1h-1zM1129 190h1v1h-1zM581 191h2v1h-2zM584 191h1v1h-1zM639 191h1v1h-1zM833 191h1v1h-1zM883 191h1v1h-1zM917 191h2v1h-2zM1104 191h1v1h-1zM1130 191h1v1h-1zM579 192h2v1h-2zM584 192h1v1h-1zM638 192h1v1h-1zM833 192h1v1h-1zM882 192h1v1h-1zM919 192h2v1h-2zM1104 192h1v1h-1zM1130 192h1v1h-1zM578 193h1v1h-1zM585 193h1v1h-1zM637 193h1v1h-1zM834 193h1v1h-1zM882 193h1v1h-1zM921 193h4v1h-4zM1103 193h1v1h-1zM1131 193h1v1h-1zM576 194h2v1h-2zM586 194h1v1h-1zM635 194h2v1h-2zM835 194h1v1h-1zM881 194h1v1h-1zM925 194h11v1h-11zM1102 194h1v1h-1zM1132 194h1v1h-1zM575 195h1v1h-1zM587 195h1v1h-1zM634 195h1v1h-1zM836 195h1v1h-1zM880 195h1v1h-1zM936 195h1v1h-1zM1101 195h1v1h-1zM1132 195h1v1h-1zM574 196h1v1h-1zM587 196h1v1h-1zM633 196h1v1h-1zM837 196h1v1h-1zM880 196h1v1h-1zM936 196h1v1h-1zM1099 196h2v1h-2zM1133 196h1v1h-1zM574 197h1v1h-1zM588 197h1v1h-1zM632 197h1v1h-1zM837 197h1v1h-1zM879 197h1v1h-1zM937 197h1v1h-1zM1098 197h1v1h-1zM1133 197h1v1h-1zM573 198h1v1h-1zM589 198h1v1h-1zM631 198h1v1h-1zM838 198h1v1h-1zM878 198h1v1h-1zM938 198h1v1h-1zM1039 198h2v1h-2zM1097 198h1v1h-1zM1134 198h1v1h-1zM573 199h1v1h-1zM590 199h1v1h-1zM630 199h1v1h-1zM839 199h1v1h-1zM878 199h1v1h-1zM939 199h1v1h-1zM1037 199h2v1h-2zM1041 199h4v1h-4zM1096 199h1v1h-1zM1134 199h1v1h-1zM572 200h1v1h-1zM590 200h1v1h-1zM629 200h1v1h-1zM840 200h1v1h-1zM877 200h1v1h-1zM939 200h1v1h-1zM1035 200h2v1h-2zM1045 200h3v1h-3zM1095 200h1v1h-1zM1135 200h1v1h-1zM571 201h1v1h-1zM591 201h4v1h-4zM628 201h1v1h-1zM841 201h1v1h-1zM877 201h1v1h-1zM940 201h1v1h-1zM1034 201h1v1h-1zM1048 201h1v1h-1zM1095 201h1v1h-1zM1136 201h1v1h-1zM571 202h1v1h-1zM595 202h5v1h-5zM627 202h1v1h-1zM841 202h1v1h-1zM876 202h1v1h-1zM941 202h1v1h-1zM1032 202h2v1h-2zM1048 202h1v1h-1zM1094 202h1v1h-1zM1137 202h1v1h-1zM570 203h1v1h-1zM600 203h2v1h-2zM627 203h1v1h-1zM842 203h1v1h-1zM875 203h1v1h-1zM942 203h1v1h-1zM1031 203h1v1h-1zM1049 203h1v1h-1zM1094 203h1v1h-1zM1138 203h1v1h-1zM569 204h1v1h-1zM602 204h2v1h-2zM626 204h1v1h-1zM843 204h1v1h-1zM875 204h1v1h-1zM942 204h1v1h-1zM1030 204h1v1h-1zM1050 204h1v1h-1zM1093 204h1v1h-1zM1139 204h1v1h-1zM569 205h1v1h-1zM604 205h2v1h-2zM625 205h1v1h-1zM844 205h1v1h-1zM874 205h1v1h-1zM943 205h1v1h-1zM1029 205h1v1h-1zM1050 205h1v1h-1zM1093 205h1v1h-1zM1140 205h1v1h-1zM568 206h1v1h-1zM606 206h3v1h-3zM624 206h1v1h-1zM845 206h1v1h-1zM873 206h1v1h-1zM944 206h1v1h-1zM1028 206h1v1h-1zM1051 206h1v1h-1zM1092 206h1v1h-1zM1141 206h1v1h-1zM568 207h1v1h-1zM609 207h4v1h-4zM619 207h5v1h-5zM845 207h1v1h-1zM873 207h1v1h-1zM945 207h1v1h-1zM1027 207h1v1h-1zM1052 207h1v1h-1zM1092 207h1v1h-1zM1142 207h1v1h-1zM567 208h1v1h-1zM613 208h6v1h-6zM846 208h1v1h-1zM872 208h1v1h-1zM946 208h1v1h-1zM1027 208h1v1h-1zM1052 208h1v1h-1zM1091 208h1v1h-1zM1143 208h1v1h-1zM567 209h1v1h-1zM847 209h1v1h-1zM872 209h1v1h-1zM947 209h1v1h-1zM1026 209h1v1h-1zM1053 209h1v1h-1zM1091 209h1v1h-1zM1143 209h1v1h-1zM566 210h1v1h-1zM848 210h2v1h-2zM871 210h1v1h-1zM948 210h1v1h-1zM1025 210h1v1h-1zM1054 210h1v1h-1zM1090 210h1v1h-1zM1144 210h1v1h-1zM566 211h1v1h-1zM850 211h2v1h-2zM870 211h1v1h-1zM949 211h1v1h-1zM1024 211h1v1h-1zM1054 211h1v1h-1zM1090 211h1v1h-1zM1144 211h1v1h-1zM566 212h1v1h-1zM852 212h2v1h-2zM869 212h1v1h-1zM950 212h1v1h-1zM1023 212h1v1h-1zM1055 212h1v1h-1zM1089 212h1v1h-1zM1145 212h1v1h-1zM565 213h1v1h-1zM854 213h2v1h-2zM867 213h2v1h-2zM951 213h1v1h-1zM1022 213h1v1h-1zM1056 213h1v1h-1zM1089 213h1v1h-1zM1145 213h1v1h-1zM565 214h1v1h-1zM856 214h2v1h-2zM866 214h1v1h-1zM952 214h1v1h-1zM1021 214h1v1h-1zM1057 214h1v1h-1zM1088 214h1v1h-1zM1145 214h1v1h-1zM565 215h1v1h-1zM858 215h2v1h-2zM865 215h1v1h-1zM952 215h1v1h-1zM1021 215h1v1h-1zM1058 215h1v1h-1zM1088 215h1v1h-1zM1146 215h1v1h-1zM564 216h1v1h-1zM860 216h2v1h-2zM864 216h1v1h-1zM953 216h1v1h-1zM1020 216h1v1h-1zM1059 216h2v1h-2zM1087 216h1v1h-1zM1146 216h1v1h-1zM564 217h1v1h-1zM862 217h2v1h-2zM953 217h1v1h-1zM1019 217h1v1h-1zM1061 217h1v1h-1zM1069 217h4v1h-4zM1085 217h3v1h-3zM1147 217h1v1h-1zM564 218h1v1h-1zM954 218h1v1h-1zM1018 218h1v1h-1zM1062 218h1v1h-1zM1065 218h4v1h-4zM1073 218h4v1h-4zM1081 218h4v1h-4zM1147 218h1v1h-1zM563 219h1v1h-1zM954 219h1v1h-1zM1017 219h1v1h-1zM1063 219h2v1h-2zM1077 219h4v1h-4zM1147 219h1v1h-1zM563 220h1v1h-1zM955 220h1v1h-1zM1017 220h1v1h-1zM1148 220h1v1h-1zM562 221h1v1h-1zM955 221h1v1h-1zM1016 221h1v1h-1zM1148 221h1v1h-1zM562 222h1v1h-1zM956 222h1v1h-1zM1015 222h1v1h-1zM1149 222h1v1h-1zM562 223h1v1h-1zM956 223h1v1h-1zM1014 223h1v1h-1zM1149 223h1v1h-1zM561 224h1v1h-1zM957 224h1v1h-1zM1014 224h1v1h-1zM1149 224h1v1h-1zM561 225h1v1h-1zM957 225h1v1h-1zM1013 225h1v1h-1zM1150 225h1v1h-1zM561 226h1v1h-1zM958 226h1v1h-1zM1013 226h1v1h-1zM1150 226h1v1h-1zM560 227h1v1h-1zM958 227h1v1h-1zM1012 227h1v1h-1zM1151 227h1v1h-1zM560 228h1v1h-1zM959 228h1v1h-1zM1011 228h1v1h-1zM1151 228h1v1h-1zM560 229h1v1h-1zM959 229h1v1h-1zM1011 229h1v1h-1zM1152 229h1v1h-1zM559 230h1v1h-1zM960 230h1v1h-1zM1010 230h1v1h-1zM1152 230h1v1h-1zM559 231h1v1h-1zM960 231h1v1h-1zM1009 231h1v1h-1zM1153 231h1v1h-1zM559 232h1v1h-1zM960 232h1v1h-1zM1009 232h1v1h-1zM1153 232h1v1h-1zM558 233h1v1h-1zM961 233h1v1h-1zM1008 233h1v1h-1zM1154 233h1v1h-1zM558 234h1v1h-1zM961 234h1v1h-1zM1008 234h1v1h-1zM1155 234h1v1h-1zM558 235h1v1h-1zM962 235h1v1h-1zM1007 235h1v1h-1zM1155 235h1v1h-1zM557 236h1v1h-1zM962 236h1v1h-1zM1007 236h1v1h-1zM1156 236h1v1h-1zM557 237h1v1h-1zM962 237h1v1h-1zM1006 237h1v1h-1zM1157 237h1v1h-1zM557 238h1v1h-1zM963 238h1v1h-1zM1006 238h1v1h-1zM1157 238h1v1h-1zM556 239h1v1h-1zM963 239h1v1h-1zM1005 239h1v1h-1zM1158 239h1v1h-1zM556 240h1v1h-1zM963 240h1v1h-1zM1005 240h1v1h-1zM1158 240h1v1h-1zM556 241h1v1h-1zM964 241h1v1h-1zM1005 241h1v1h-1zM1159 241h1v1h-1zM555 242h1v1h-1zM964 242h1v1h-1zM1004 242h1v1h-1zM1159 242h1v1h-1zM555 243h1v1h-1zM964 243h1v1h-1zM1004 243h1v1h-1zM1160 243h1v1h-1zM555 244h1v1h-1zM965 244h1v1h-1zM1003 244h1v1h-1zM1160 244h1v1h-1zM554 245h1v1h-1zM965 245h1v1h-1zM1003 245h1v1h-1zM1160 245h1v1h-1zM554 246h1v1h-1zM966 246h1v1h-1zM1003 246h1v1h-1zM1161 246h1v1h-1zM554 247h1v1h-1zM966 247h1v1h-1zM1002 247h1v1h-1zM1161 247h1v1h-1zM553 248h1v1h-1zM966 248h1v1h-1zM1002 248h1v1h-1zM1162 248h1v1h-1zM553 249h1v1h-1zM967 249h1v1h-1zM1001 249h1v1h-1zM1162 249h1v1h-1zM553 250h1v1h-1zM967 250h1v1h-1zM1001 250h1v1h-1zM1162 250h1v1h-1zM552 251h1v1h-1zM968 251h1v1h-1zM1001 251h1v1h-1zM1163 251h1v1h-1zM552 252h1v1h-1zM968 252h1v1h-1zM1000 252h1v1h-1zM1163 252h1v1h-1zM552 253h1v1h-1zM969 253h1v1h-1zM1000 253h1v1h-1zM1163 253h1v1h-1zM551 254h1v1h-1zM969 254h1v1h-1zM999 254h1v1h-1zM1164 254h1v1h-1zM551 255h1v1h-1zM970 255h1v1h-1zM999 255h1v1h-1zM1164 255h1v1h-1zM551 256h1v1h-1zM970 256h1v1h-1zM998 256h1v1h-1zM1164 256h1v1h-1zM550 257h1v1h-1zM971 257h1v1h-1zM998 257h1v1h-1zM1165 257h1v1h-1zM550 258h1v1h-1zM972 258h1v1h-1zM997 258h1v1h-1zM1165 258h1v1h-1zM550 259h1v1h-1zM972 259h1v1h-1zM996 259h1v1h-1zM1166 259h1v1h-1zM550 260h1v1h-1zM973 260h1v1h-1zM996 260h1v1h-1zM1166 260h1v1h-1zM549 261h1v1h-1zM973 261h1v1h-1zM995 261h1v1h-1zM1166 261h1v1h-1zM549 262h1v1h-1zM974 262h1v1h-1zM994 262h1v1h-1zM1167 262h1v1h-1zM549 263h1v1h-1zM974 263h1v1h-1zM994 263h1v1h-1zM1167 263h1v1h-1zM548 264h1v1h-1zM975 264h1v1h-1zM993 264h1v1h-1zM1167 264h1v1h-1zM548 265h1v1h-1zM976 265h2v1h-2zM992 265h1v1h-1zM1168 265h1v1h-1zM548 266h1v1h-1zM978 266h1v1h-1zM992 266h1v1h-1zM1168 266h1v1h-1zM548 267h1v1h-1zM979 267h2v1h-2zM989 267h3v1h-3zM1169 267h1v1h-1zM547 268h1v1h-1zM981 268h2v1h-2zM985 268h4v1h-4zM1169 268h1v1h-1zM547 269h1v1h-1zM983 269h2v1h-2zM1170 269h1v1h-1zM547 270h1v1h-1zM1170 270h1v1h-1zM546 271h1v1h-1zM1171 271h1v1h-1zM546 272h1v1h-1zM1171 272h1v1h-1zM546 273h1v1h-1zM1171 273h1v1h-1zM546 274h1v1h-1zM1172 274h1v1h-1zM545 275h1v1h-1zM1172 275h1v1h-1zM545 276h1v1h-1zM1173 276h1v1h-1zM545 277h1v1h-1zM1173 277h1v1h-1zM544 278h1v1h-1zM1174 278h1v1h-1zM544 279h1v1h-1zM1174 279h1v1h-1zM544 280h1v1h-1zM1175 280h1v1h-1zM544 281h1v1h-1zM1175 281h1v1h-1zM543 282h1v1h-1zM1175 282h1v1h-1zM543 283h1v1h-1zM1176 283h1v1h-1zM543 284h1v1h-1zM1176 284h1v1h-1zM542 285h1v1h-1zM1176 285h1v1h-1zM542 286h1v1h-1zM1176 286h1v1h-1zM542 287h1v1h-1zM1177 287h1v1h-1zM541 288h1v1h-1zM1177 288h1v1h-1zM541 289h1v1h-1zM1177 289h1v1h-1zM541 290h1v1h-1zM1178 290h1v1h-1zM540 291h1v1h-1zM1178 291h1v1h-1zM540 292h1v1h-1zM1178 292h1v1h-1zM540 293h1v1h-1zM1179 293h1v1h-1zM539 294h1v1h-1zM1179 294h1v1h-1zM539 295h1v1h-1zM1179 295h1v1h-1zM538 296h1v1h-1zM1179 296h1v1h-1zM538 297h1v1h-1zM1180 297h1v1h-1zM538 298h1v1h-1zM1180 298h1v1h-1zM537 299h1v1h-1zM1180 299h1v1h-1zM537 300h1v1h-1zM1181 300h1v1h-1zM537 301h1v1h-1zM1181 301h1v1h-1zM536 302h1v1h-1zM1181 302h1v1h-1zM536 303h1v1h-1zM1182 303h1v1h-1zM536 304h1v1h-1zM1182 304h1v1h-1zM535 305h1v1h-1zM1182 305h1v1h-1zM535 306h1v1h-1zM1182 306h1v1h-1zM535 307h1v1h-1zM1183 307h1v1h-1zM534 308h1v1h-1zM1183 308h1v1h-1zM534 309h1v1h-1zM1183 309h1v1h-1zM533 310h1v1h-1zM1184 310h1v1h-1zM533 311h1v1h-1zM1184 311h1v1h-1zM532 312h1v1h-1zM1184 312h1v1h-1zM532 313h1v1h-1zM1185 313h1v1h-1zM531 314h1v1h-1zM1185 314h1v1h-1zM531 315h1v1h-1zM1185 315h1v1h-1zM530 316h1v1h-1zM1186 316h1v1h-1zM530 317h1v1h-1zM1186 317h1v1h-1zM529 318h1v1h-1zM1186 318h1v1h-1zM529 319h1v1h-1zM1187 319h1v1h-1zM528 320h1v1h-1zM1187 320h1v1h-1zM528 321h1v1h-1zM1187 321h1v1h-1zM527 322h1v1h-1zM1188 322h1v1h-1zM527 323h1v1h-1zM1188 323h1v1h-1zM526 324h1v1h-1zM1188 324h1v1h-1zM526 325h1v1h-1zM1189 325h1v1h-1zM1230 325h10v1h-10zM525 326h1v1h-1zM1189 326h1v1h-1zM1228 326h2v1h-2zM1240 326h1v1h-1zM524 327h1v1h-1zM1189 327h1v1h-1zM1226 327h2v1h-2zM1241 327h1v1h-1zM524 328h1v1h-1zM1190 328h1v1h-1zM1224 328h2v1h-2zM1242 328h1v1h-1zM523 329h1v1h-1zM1190 329h1v1h-1zM1223 329h1v1h-1zM1243 329h1v1h-1zM522 330h1v1h-1zM1190 330h1v1h-1zM1222 330h1v1h-1zM1244 330h1v1h-1zM522 331h1v1h-1zM1191 331h1v1h-1zM1222 331h1v1h-1zM1245 331h1v1h-1zM521 332h1v1h-1zM1191 332h1v1h-1zM1221 332h1v1h-1zM1246 332h1v1h-1zM520 333h1v1h-1zM1191 333h1v1h-1zM1220 333h1v1h-1zM1247 333h1v1h-1zM520 334h1v1h-1zM1192 334h1v1h-1zM1220 334h1v1h-1zM519 335h1v1h-1zM1192 335h1v1h-1zM1219 335h1v1h-1zM519 336h1v1h-1zM1193 336h1v1h-1zM1218 336h1v1h-1zM518 337h1v1h-1zM1193 337h1v1h-1zM1218 337h1v1h-1zM518 338h1v1h-1zM1194 338h1v1h-1zM1217 338h1v1h-1zM517 339h1v1h-1zM1194 339h1v1h-1zM1216 339h1v1h-1zM517 340h1v1h-1zM1194 340h1v1h-1zM1216 340h1v1h-1zM516 341h1v1h-1zM1195 341h1v1h-1zM1214 341h2v1h-2zM516 342h1v1h-1zM1195 342h1v1h-1zM1211 342h3v1h-3zM516 343h1v1h-1zM1196 343h1v1h-1zM1209 343h2v1h-2zM515 344h1v1h-1zM1196 344h1v1h-1zM1207 344h2v1h-2zM515 345h1v1h-1zM1196 345h1v1h-1zM1206 345h1v1h-1zM514 346h1v1h-1zM1197 346h1v1h-1zM1205 346h1v1h-1zM514 347h1v1h-1zM1197 347h1v1h-1zM1203 347h2v1h-2zM514 348h1v1h-1zM1198 348h1v1h-1zM1202 348h1v1h-1zM513 349h1v1h-1zM1198 349h1v1h-1zM1201 349h1v1h-1zM513 350h1v1h-1zM1199 350h2v1h-2zM512 351h1v1h-1zM1199 351h1v1h-1zM512 352h1v1h-1zM511 353h1v1h-1zM511 354h1v1h-1zM510 355h1v1h-1zM510 356h1v1h-1zM509 357h1v1h-1zM508 358h1v1h-1zM507 359h1v1h-1zM507 360h1v1h-1zM506 361h1v1h-1zM505 362h1v1h-1zM504 363h1v1h-1zM504 364h1v1h-1zM503 365h1v1h-1zM501 366h2v1h-2zM500 367h1v1h-1zM499 368h1v1h-1zM497 369h2v1h-2zM496 370h1v1h-1zM470 371h2v1h-2zM495 371h1v1h-1zM467 372h3v1h-3zM472 372h1v1h-1zM494 372h1v1h-1zM465 373h2v1h-2zM473 373h1v1h-1zM493 373h1v1h-1zM462 374h3v1h-3zM474 374h1v1h-1zM492 374h1v1h-1zM459 375h3v1h-3zM475 375h1v1h-1zM491 375h1v1h-1zM457 376h2v1h-2zM476 376h1v1h-1zM490 376h1v1h-1zM7 377h1v1h-1zM453 377h4v1h-4zM477 377h1v1h-1zM489 377h1v1h-1zM8 378h1v1h-1zM449 378h4v1h-4zM478 378h1v1h-1zM488 378h1v1h-1zM9 379h2v1h-2zM447 379h2v1h-2zM479 379h9v1h-9zM11 380h1v1h-1zM30 380h2v1h-2zM446 380h1v1h-1zM12 381h1v1h-1zM28 381h2v1h-2zM32 381h2v1h-2zM391 381h1v1h-1zM445 381h1v1h-1zM13 382h2v1h-2zM26 382h2v1h-2zM34 382h2v1h-2zM390 382h1v1h-1zM392 382h1v1h-1zM444 382h1v1h-1zM15 383h4v1h-4zM24 383h2v1h-2zM36 383h2v1h-2zM279 383h4v1h-4zM390 383h1v1h-1zM393 383h1v1h-1zM443 383h1v1h-1zM19 384h5v1h-5zM38 384h2v1h-2zM278 384h1v1h-1zM283 384h5v1h-5zM389 384h1v1h-1zM394 384h1v1h-1zM443 384h1v1h-1zM40 385h1v1h-1zM277 385h1v1h-1zM288 385h2v1h-2zM389 385h1v1h-1zM395 385h1v1h-1zM442 385h1v1h-1zM40 386h1v1h-1zM276 386h1v1h-1zM290 386h2v1h-2zM388 386h1v1h-1zM395 386h1v1h-1zM441 386h1v1h-1zM41 387h1v1h-1zM275 387h1v1h-1zM292 387h2v1h-2zM388 387h1v1h-1zM396 387h1v1h-1zM440 387h1v1h-1zM41 388h1v1h-1zM275 388h1v1h-1zM294 388h2v1h-2zM387 388h1v1h-1zM397 388h1v1h-1zM439 388h1v1h-1zM42 389h1v1h-1zM274 389h1v1h-1zM296 389h1v1h-1zM386 389h1v1h-1zM398 389h1v1h-1zM438 389h1v1h-1zM43 390h1v1h-1zM273 390h1v1h-1zM297 390h1v1h-1zM386 390h1v1h-1zM399 390h1v1h-1zM438 390h1v1h-1zM43 391h1v1h-1zM272 391h1v1h-1zM297 391h1v1h-1zM385 391h1v1h-1zM400 391h1v1h-1zM437 391h1v1h-1zM44 392h1v1h-1zM271 392h1v1h-1zM298 392h1v1h-1zM385 392h1v1h-1zM401 392h1v1h-1zM437 392h1v1h-1zM45 393h1v1h-1zM271 393h1v1h-1zM299 393h1v1h-1zM384 393h1v1h-1zM402 393h1v1h-1zM436 393h1v1h-1zM45 394h1v1h-1zM270 394h1v1h-1zM300 394h1v1h-1zM384 394h1v1h-1zM403 394h1v1h-1zM436 394h1v1h-1zM46 395h1v1h-1zM270 395h1v1h-1zM301 395h1v1h-1zM383 395h1v1h-1zM404 395h1v1h-1zM435 395h1v1h-1zM46 396h1v1h-1zM269 396h1v1h-1zM301 396h1v1h-1zM382 396h1v1h-1zM405 396h1v1h-1zM435 396h1v1h-1zM47 397h1v1h-1zM269 397h1v1h-1zM302 397h1v1h-1zM382 397h1v1h-1zM406 397h1v1h-1zM434 397h1v1h-1zM47 398h1v1h-1zM268 398h1v1h-1zM303 398h1v1h-1zM381 398h1v1h-1zM407 398h1v1h-1zM434 398h1v1h-1zM48 399h1v1h-1zM268 399h1v1h-1zM303 399h1v1h-1zM381 399h1v1h-1zM408 399h1v1h-1zM433 399h1v1h-1zM48 400h1v1h-1zM267 400h1v1h-1zM304 400h1v1h-1zM380 400h1v1h-1zM409 400h1v1h-1zM433 400h1v1h-1zM49 401h1v1h-1zM267 401h1v1h-1zM304 401h1v1h-1zM379 401h1v1h-1zM410 401h1v1h-1zM432 401h1v1h-1zM49 402h1v1h-1zM266 402h1v1h-1zM304 402h1v1h-1zM379 402h1v1h-1zM411 402h1v1h-1zM432 402h1v1h-1zM50 403h1v1h-1zM266 403h1v1h-1zM305 403h1v1h-1zM378 403h1v1h-1zM412 403h1v1h-1zM429 403h3v1h-3zM50 404h1v1h-1zM265 404h1v1h-1zM305 404h1v1h-1zM377 404h1v1h-1zM413 404h1v1h-1zM425 404h4v1h-4zM51 405h1v1h-1zM265 405h1v1h-1zM305 405h1v1h-1zM377 405h1v1h-1zM414 405h1v1h-1zM419 405h6v1h-6zM51 406h1v1h-1zM264 406h1v1h-1zM306 406h1v1h-1zM376 406h1v1h-1zM415 406h4v1h-4zM52 407h1v1h-1zM264 407h1v1h-1zM306 407h1v1h-1zM376 407h1v1h-1zM52 408h1v1h-1zM263 408h1v1h-1zM306 408h1v1h-1zM375 408h1v1h-1zM53 409h1v1h-1zM262 409h1v1h-1zM307 409h1v1h-1zM375 409h1v1h-1zM53 410h1v1h-1zM262 410h1v1h-1zM307 410h1v1h-1zM375 410h1v1h-1zM54 411h1v1h-1zM261 411h1v1h-1zM307 411h1v1h-1zM374 411h1v1h-1zM54 412h1v1h-1zM261 412h1v1h-1zM308 412h1v1h-1zM374 412h1v1h-1zM55 413h1v1h-1zM260 413h1v1h-1zM308 413h1v1h-1zM374 413h1v1h-1zM55 414h1v1h-1zM260 414h1v1h-1zM308 414h1v1h-1zM374 414h1v1h-1zM55 415h1v1h-1zM190 415h2v1h-2zM259 415h1v1h-1zM309 415h1v1h-1zM373 415h1v1h-1zM56 416h1v1h-1zM187 416h3v1h-3zM192 416h2v1h-2zM258 416h1v1h-1zM309 416h1v1h-1zM373 416h1v1h-1zM56 417h1v1h-1zM185 417h2v1h-2zM194 417h2v1h-2zM258 417h1v1h-1zM309 417h1v1h-1zM373 417h1v1h-1zM57 418h1v1h-1zM183 418h2v1h-2zM196 418h2v1h-2zM257 418h1v1h-1zM310 418h1v1h-1zM373 418h1v1h-1zM57 419h1v1h-1zM181 419h2v1h-2zM198 419h10v1h-10zM257 419h1v1h-1zM310 419h1v1h-1zM372 419h1v1h-1zM58 420h1v1h-1zM180 420h1v1h-1zM208 420h1v1h-1zM256 420h1v1h-1zM310 420h1v1h-1zM372 420h1v1h-1zM58 421h1v1h-1zM179 421h1v1h-1zM208 421h1v1h-1zM256 421h1v1h-1zM311 421h1v1h-1zM372 421h1v1h-1zM58 422h1v1h-1zM177 422h2v1h-2zM209 422h1v1h-1zM255 422h1v1h-1zM311 422h1v1h-1zM372 422h1v1h-1zM59 423h1v1h-1zM176 423h1v1h-1zM209 423h1v1h-1zM255 423h1v1h-1zM311 423h1v1h-1zM371 423h1v1h-1zM59 424h1v1h-1zM175 424h1v1h-1zM210 424h1v1h-1zM254 424h1v1h-1zM312 424h1v1h-1zM371 424h1v1h-1zM60 425h1v1h-1zM174 425h1v1h-1zM210 425h1v1h-1zM254 425h1v1h-1zM312 425h1v1h-1zM371 425h1v1h-1zM60 426h1v1h-1zM174 426h1v1h-1zM211 426h1v1h-1zM254 426h1v1h-1zM312 426h1v1h-1zM371 426h1v1h-1zM60 427h1v1h-1zM173 427h1v1h-1zM211 427h1v1h-1zM253 427h1v1h-1zM312 427h1v1h-1zM370 427h1v1h-1zM61 428h1v1h-1zM173 428h1v1h-1zM212 428h1v1h-1zM253 428h1v1h-1zM313 428h1v1h-1zM370 428h1v1h-1zM61 429h1v1h-1zM172 429h1v1h-1zM212 429h1v1h-1zM252 429h1v1h-1zM313 429h1v1h-1zM370 429h1v1h-1zM62 430h1v1h-1zM172 430h1v1h-1zM213 430h1v1h-1zM252 430h1v1h-1zM313 430h1v1h-1zM370 430h1v1h-1zM62 431h1v1h-1zM171 431h1v1h-1zM213 431h1v1h-1zM252 431h1v1h-1zM314 431h1v1h-1zM369 431h1v1h-1zM63 432h1v1h-1zM170 432h1v1h-1zM214 432h1v1h-1zM251 432h1v1h-1zM314 432h1v1h-1zM369 432h1v1h-1zM63 433h1v1h-1zM170 433h1v1h-1zM214 433h1v1h-1zM251 433h1v1h-1zM314 433h1v1h-1zM369 433h1v1h-1zM63 434h1v1h-1zM169 434h1v1h-1zM215 434h1v1h-1zM251 434h1v1h-1zM315 434h1v1h-1zM369 434h1v1h-1zM64 435h1v1h-1zM169 435h1v1h-1zM216 435h1v1h-1zM250 435h1v1h-1zM315 435h1v1h-1zM368 435h1v1h-1zM64 436h1v1h-1zM168 436h1v1h-1zM216 436h1v1h-1zM250 436h1v1h-1zM315 436h1v1h-1zM368 436h1v1h-1zM64 437h1v1h-1zM168 437h1v1h-1zM217 437h1v1h-1zM250 437h1v1h-1zM315 437h1v1h-1zM368 437h1v1h-1zM65 438h1v1h-1zM167 438h1v1h-1zM217 438h1v1h-1zM249 438h1v1h-1zM316 438h1v1h-1zM368 438h1v1h-1zM65 439h1v1h-1zM165 439h2v1h-2zM218 439h1v1h-1zM249 439h1v1h-1zM316 439h1v1h-1zM367 439h1v1h-1zM65 440h1v1h-1zM164 440h1v1h-1zM218 440h1v1h-1zM248 440h1v1h-1zM316 440h1v1h-1zM367 440h1v1h-1zM66 441h1v1h-1zM163 441h1v1h-1zM219 441h1v1h-1zM248 441h1v1h-1zM317 441h1v1h-1zM367 441h1v1h-1zM66 442h1v1h-1zM161 442h2v1h-2zM220 442h1v1h-1zM248 442h1v1h-1zM317 442h1v1h-1zM366 442h1v1h-1zM66 443h1v1h-1zM160 443h1v1h-1zM220 443h1v1h-1zM247 443h1v1h-1zM317 443h1v1h-1zM366 443h1v1h-1zM67 444h1v1h-1zM157 444h3v1h-3zM221 444h1v1h-1zM247 444h1v1h-1zM318 444h1v1h-1zM366 444h1v1h-1zM67 445h1v1h-1zM153 445h4v1h-4zM221 445h1v1h-1zM246 445h1v1h-1zM318 445h1v1h-1zM366 445h1v1h-1zM67 446h1v1h-1zM151 446h2v1h-2zM222 446h1v1h-1zM245 446h1v1h-1zM318 446h1v1h-1zM365 446h1v1h-1zM67 447h1v1h-1zM150 447h1v1h-1zM222 447h1v1h-1zM244 447h1v1h-1zM318 447h1v1h-1zM365 447h1v1h-1zM68 448h1v1h-1zM149 448h1v1h-1zM223 448h1v1h-1zM243 448h1v1h-1zM319 448h1v1h-1zM365 448h1v1h-1zM68 449h1v1h-1zM147 449h2v1h-2zM224 449h1v1h-1zM243 449h1v1h-1zM319 449h1v1h-1zM365 449h1v1h-1zM68 450h1v1h-1zM146 450h1v1h-1zM224 450h1v1h-1zM242 450h1v1h-1zM319 450h1v1h-1zM364 450h1v1h-1zM69 451h1v1h-1zM145 451h1v1h-1zM225 451h1v1h-1zM241 451h1v1h-1zM320 451h1v1h-1zM364 451h1v1h-1zM69 452h1v1h-1zM144 452h1v1h-1zM226 452h1v1h-1zM240 452h1v1h-1zM320 452h1v1h-1zM364 452h1v1h-1zM69 453h1v1h-1zM143 453h1v1h-1zM227 453h1v1h-1zM239 453h1v1h-1zM320 453h1v1h-1zM364 453h1v1h-1zM70 454h1v1h-1zM142 454h1v1h-1zM227 454h1v1h-1zM237 454h2v1h-2zM321 454h1v1h-1zM363 454h1v1h-1zM70 455h1v1h-1zM141 455h1v1h-1zM228 455h1v1h-1zM236 455h1v1h-1zM321 455h1v1h-1zM363 455h1v1h-1zM70 456h1v1h-1zM140 456h1v1h-1zM229 456h1v1h-1zM235 456h1v1h-1zM321 456h1v1h-1zM363 456h1v1h-1zM71 457h1v1h-1zM139 457h1v1h-1zM230 457h1v1h-1zM233 457h2v1h-2zM322 457h1v1h-1zM362 457h1v1h-1zM71 458h1v1h-1zM139 458h1v1h-1zM230 458h1v1h-1zM232 458h1v1h-1zM322 458h1v1h-1zM362 458h1v1h-1zM71 459h1v1h-1zM138 459h1v1h-1zM231 459h1v1h-1zM322 459h1v1h-1zM362 459h1v1h-1zM72 460h1v1h-1zM137 460h1v1h-1zM323 460h1v1h-1zM362 460h1v1h-1zM72 461h1v1h-1zM136 461h1v1h-1zM323 461h1v1h-1zM361 461h1v1h-1zM72 462h1v1h-1zM135 462h1v1h-1zM324 462h1v1h-1zM361 462h1v1h-1zM72 463h1v1h-1zM133 463h2v1h-2zM324 463h1v1h-1zM361 463h1v1h-1zM73 464h1v1h-1zM132 464h1v1h-1zM324 464h1v1h-1zM361 464h1v1h-1zM73 465h1v1h-1zM131 465h1v1h-1zM325 465h1v1h-1zM360 465h1v1h-1zM73 466h1v1h-1zM129 466h2v1h-2zM325 466h1v1h-1zM360 466h1v1h-1zM73 467h1v1h-1zM128 467h1v1h-1zM325 467h1v1h-1zM360 467h1v1h-1zM74 468h1v1h-1zM127 468h1v1h-1zM326 468h1v1h-1zM360 468h1v1h-1zM74 469h1v1h-1zM126 469h1v1h-1zM326 469h1v1h-1zM359 469h1v1h-1zM74 470h1v1h-1zM126 470h1v1h-1zM326 470h1v1h-1zM359 470h1v1h-1zM74 471h1v1h-1zM125 471h1v1h-1zM327 471h1v1h-1zM359 471h1v1h-1zM75 472h1v1h-1zM124 472h1v1h-1zM327 472h1v1h-1zM358 472h1v1h-1zM75 473h1v1h-1zM123 473h1v1h-1zM327 473h1v1h-1zM358 473h1v1h-1zM75 474h1v1h-1zM123 474h1v1h-1zM328 474h1v1h-1zM358 474h1v1h-1zM75 475h1v1h-1zM122 475h1v1h-1zM328 475h1v1h-1zM357 475h1v1h-1zM76 476h1v1h-1zM121 476h1v1h-1zM328 476h1v1h-1zM357 476h1v1h-1zM76 477h1v1h-1zM120 477h1v1h-1zM329 477h1v1h-1zM357 477h1v1h-1zM76 478h1v1h-1zM120 478h1v1h-1zM329 478h1v1h-1zM356 478h1v1h-1zM76 479h1v1h-1zM119 479h1v1h-1zM329 479h1v1h-1zM356 479h1v1h-1zM77 480h1v1h-1zM119 480h1v1h-1zM329 480h1v1h-1zM356 480h1v1h-1zM77 481h1v1h-1zM118 481h1v1h-1zM330 481h1v1h-1zM355 481h1v1h-1zM77 482h1v1h-1zM118 482h1v1h-1zM330 482h1v1h-1zM355 482h1v1h-1zM77 483h1v1h-1zM117 483h1v1h-1zM330 483h1v1h-1zM355 483h1v1h-1zM78 484h1v1h-1zM117 484h1v1h-1zM331 484h1v1h-1zM354 484h1v1h-1zM78 485h1v1h-1zM116 485h1v1h-1zM331 485h1v1h-1zM354 485h1v1h-1zM78 486h1v1h-1zM116 486h1v1h-1zM331 486h1v1h-1zM354 486h1v1h-1zM78 487h1v1h-1zM115 487h1v1h-1zM332 487h1v1h-1zM353 487h1v1h-1zM79 488h1v1h-1zM115 488h1v1h-1zM332 488h1v1h-1zM353 488h1v1h-1zM79 489h1v1h-1zM115 489h1v1h-1zM332 489h1v1h-1zM353 489h1v1h-1zM80 490h1v1h-1zM114 490h1v1h-1zM333 490h1v1h-1zM352 490h1v1h-1zM80 491h1v1h-1zM114 491h1v1h-1zM333 491h1v1h-1zM352 491h1v1h-1zM81 492h1v1h-1zM113 492h1v1h-1zM333 492h1v1h-1zM352 492h1v1h-1zM81 493h1v1h-1zM113 493h1v1h-1zM333 493h1v1h-1zM351 493h1v1h-1zM82 494h1v1h-1zM112 494h1v1h-1zM334 494h1v1h-1zM351 494h1v1h-1zM82 495h1v1h-1zM112 495h1v1h-1zM334 495h1v1h-1zM349 495h2v1h-2zM83 496h1v1h-1zM111 496h1v1h-1zM334 496h1v1h-1zM348 496h1v1h-1zM83 497h1v1h-1zM111 497h1v1h-1zM335 497h1v1h-1zM347 497h1v1h-1zM84 498h1v1h-1zM110 498h1v1h-1zM335 498h2v1h-2zM345 498h2v1h-2zM84 499h1v1h-1zM109 499h1v1h-1zM337 499h4v1h-4zM344 499h1v1h-1zM85 500h1v1h-1zM108 500h1v1h-1zM341 500h3v1h-3zM85 501h1v1h-1zM107 501h1v1h-1zM86 502h1v1h-1zM106 502h1v1h-1zM86 503h1v1h-1zM105 503h1v1h-1zM87 504h1v1h-1zM104 504h1v1h-1zM88 505h1v1h-1zM103 505h1v1h-1zM89 506h2v1h-2zM101 506h2v1h-2zM91 507h1v1h-1zM99 507h2v1h-2zM92 508h1v1h-1zM98 508h1v1h-1zM93 509h2v1h-2zM96 509h2v1h-2zM95 510h1v1h-1z" fill="#ffa500" shape-rendering="crispEdges"/></g><g shape-rendering="crispEdges"><rect x="7" y="81" width="1576" height="2" fill="#ff4500"/><rect x="7" y="147" width="1576" height="2" fill="#ff4500"/><rect x="6" y="145" width="6" height="6" fill="#ff4500"/><rect x="8" y="147" width="2" height="2" fill="#fff"/><rect x="1577" y="145" width="6" height="6" fill="#ff4500"/><rect x="1579" y="147" width="2" height="2" fill="#fff"/><rect x="7" y="211" width="1576" height="2" fill="#00ff00"/><rect x="6" y="209" width="6" height="6" fill="#00ff00"/><rect x="8" y="211" width="2" height="2" fill="#fff"/><rect x="1577" y="209" width="6" height="6" fill="#00ff00"/><rect x="1579" y="211" width="2" height="2" fill="#fff"/><rect x="7" y="279" width="1576" height="2" fill="#0000ff"/><rect x="6" y="277" width="6" height="6" fill="#0000ff"/><rect x="8" y="279" width="2" height="2" fill="#fff"/><rect x="1577" y="277" width="6" height="6" fill="#0000ff"/><rect x="1579" y="279" width="2" height="2" fill="#fff"/><rect x="7" y="343" width="1576" height="2" fill="#0000ff"/><rect x="6" y="341" width="6" height="6" fill="#0000ff"/><rect x="8" y="343" width="2" height="2" fill="#fff"/><rect x="1577" y="341" width="6" height="6" fill="#0000ff"/><rect x="1579" y="343" width="2" height="2" fill="#fff"/><rect x="7" y="409" width="1576" height="2" fill="#0000ff"/></g><polygon points="1262,27 1271,27 1266.5,31.8" fill="#c0c0c0"/><g shape-rendering="crispEdges" fill="#000"><rect x="1584" y="55" width="2" height="1"/><rect x="1584" y="88" width="2" height="1"/><rect x="1584" y="121" width="2" height="1"/><rect x="1584" y="154" width="2" height="1"/><rect x="1584" y="187" width="2" height="1"/><rect x="1584" y="220" width="2" height="1"/><rect x="1584" y="253" width="2" height="1"/><rect x="1584" y="286" width="2" height="1"/><rect x="1584" y="319" width="2" height="1"/><rect x="1584" y="352" width="2" height="1"/><rect x="1584" y="385" width="2" height="1"/><rect x="1584" y="418" width="2" height="1"/><rect x="1584" y="451" width="2" height="1"/><rect x="1584" y="484" width="2" height="1"/><rect x="1584" y="517" width="2" height="1"/><rect x="1584" y="550" width="2" height="1"/></g><g font-family='"Liberation Sans", Arial, sans-serif' font-size="10" letter-spacing="-0.55" fill="#000"><text x="1589" y="58.5">1.23440</text><text x="1589" y="91.5">1.22930</text><text x="1589" y="124.5">1.22435</text><text x="1589" y="157.5">1.21925</text><text x="1589" y="190.5">1.21415</text><text x="1589" y="223.5">1.20905</text><text x="1589" y="256.5">1.20410</text><text x="1589" y="289.5">1.19900</text><text x="1589" y="322.5">1.19390</text><text x="1589" y="355.5">1.18895</text><text x="1589" y="388.5">1.18385</text><text x="1589" y="421.5">1.17875</text><text x="1589" y="454.5">1.17380</text><text x="1589" y="487.5">1.16870</text><text x="1589" y="520.5">1.16360</text><text x="1589" y="553.5">1.15865</text></g><rect x="1585" y="341" width="41" height="11" fill="#000" shape-rendering="crispEdges"/><text x="1589" y="349.5" font-family='"Liberation Sans", Arial, sans-serif' font-size="10" letter-spacing="-0.55" fill="#fff">1.18989</text><rect x="1585" y="76" width="41" height="11" fill="#ff4500" shape-rendering="crispEdges"/><text x="1589" y="84.7" font-family='"Liberation Sans", Arial, sans-serif' font-size="10" letter-spacing="-0.55" fill="#fff">1.23019</text><rect x="1585" y="142" width="41" height="11" fill="#ff4500" shape-rendering="crispEdges"/><text x="1589" y="150.7" font-family='"Liberation Sans", Arial, sans-serif' font-size="10" letter-spacing="-0.55" fill="#fff">1.22010</text><rect x="1585" y="206" width="41" height="11" fill="#00ff00" shape-rendering="crispEdges"/><text x="1589" y="214.7" font-family='"Liberation Sans", Arial, sans-serif' font-size="10" letter-spacing="-0.55" fill="#fff">1.21032</text><rect x="1585" y="274" width="41" height="11" fill="#0000ff" shape-rendering="crispEdges"/><text x="1589" y="282.7" font-family='"Liberation Sans", Arial, sans-serif' font-size="10" letter-spacing="-0.55" fill="#fff">1.19992</text><rect x="1585" y="338" width="41" height="11" fill="#0000ff" shape-rendering="crispEdges"/><text x="1589" y="346.7" font-family='"Liberation Sans", Arial, sans-serif' font-size="10" letter-spacing="-0.55" fill="#fff">1.19015</text><rect x="1585" y="404" width="41" height="11" fill="#0000ff" shape-rendering="crispEdges"/><text x="1589" y="412.7" font-family='"Liberation Sans", Arial, sans-serif' font-size="10" letter-spacing="-0.55" fill="#fff">1.17998</text><polygon points="10,33 17,33 13.5,37" fill="#000"/><text x="22" y="37.5" font-family='"Liberation Sans", Arial, sans-serif' font-size="9.5" fill="#000" textLength="65.3" lengthAdjust="spacingAndGlyphs">EURUSD,Daily</text><text x="91.3" y="37.5" font-family='"Liberation Sans", Arial, sans-serif' font-size="9.3" fill="#000" xml:space="preserve">1.18935 1.19093 1.18894 1.18989</text><g shape-rendering="crispEdges" fill="#c0c0c0"><rect x="8" y="585" width="3" height="1"/><rect x="14" y="585" width="3" height="1"/><rect x="20" y="585" width="3" height="1"/><rect x="26" y="585" width="3" height="1"/><rect x="32" y="585" width="3" height="1"/><rect x="38" y="585" width="3" height="1"/><rect x="44" y="585" width="3" height="1"/><rect x="50" y="585" width="3" height="1"/><rect x="56" y="585" width="3" height="1"/><rect x="62" y="585" width="3" height="1"/><rect x="68" y="585" width="3" height="1"/><rect x="74" y="585" width="3" height="1"/><rect x="80" y="585" width="3" height="1"/><rect x="86" y="585" width="3" height="1"/><rect x="92" y="585" width="3" height="1"/><rect x="98" y="585" width="3" height="1"/><rect x="104" y="585" width="3" height="1"/><rect x="110" y="585" width="3" height="1"/><rect x="116" y="585" width="3" height="1"/><rect x="122" y="585" width="3" height="1"/><rect x="128" y="585" width="3" height="1"/><rect x="134" y="585" width="3" height="1"/><rect x="140" y="585" width="3" height="1"/><rect x="146" y="585" width="3" height="1"/><rect x="152" y="585" width="3" height="1"/><rect x="158" y="585" width="3" height="1"/><rect x="164" y="585" width="3" height="1"/><rect x="170" y="585" width="3" height="1"/><rect x="176" y="585" width="3" height="1"/><rect x="182" y="585" width="3" height="1"/><rect x="188" y="585" width="3" height="1"/><rect x="194" y="585" width="3" height="1"/><rect x="200" y="585" width="3" height="1"/><rect x="206" y="585" width="3" height="1"/><rect x="212" y="585" width="3" height="1"/><rect x="218" y="585" width="3" height="1"/><rect x="224" y="585" width="3" height="1"/><rect x="230" y="585" width="3" height="1"/><rect x="236" y="585" width="3" height="1"/><rect x="242" y="585" width="3" height="1"/><rect x="248" y="585" width="3" height="1"/><rect x="254" y="585" width="3" height="1"/><rect x="260" y="585" width="3" height="1"/><rect x="266" y="585" width="3" height="1"/><rect x="272" y="585" width="3" height="1"/><rect x="278" y="585" width="3" height="1"/><rect x="284" y="585" width="3" height="1"/><rect x="290" y="585" width="3" height="1"/><rect x="296" y="585" width="3" height="1"/><rect x="302" y="585" width="3" height="1"/><rect x="308" y="585" width="3" height="1"/><rect x="314" y="585" width="3" height="1"/><rect x="320" y="585" width="3" height="1"/><rect x="326" y="585" width="3" height="1"/><rect x="332" y="585" width="3" height="1"/><rect x="338" y="585" width="3" height="1"/><rect x="344" y="585" width="3" height="1"/><rect x="350" y="585" width="3" height="1"/><rect x="356" y="585" width="3" height="1"/><rect x="362" y="585" width="3" height="1"/><rect x="368" y="585" width="3" height="1"/><rect x="374" y="585" width="3" height="1"/><rect x="380" y="585" width="3" height="1"/><rect x="386" y="585" width="3" height="1"/><rect x="392" y="585" width="3" height="1"/><rect x="398" y="585" width="3" height="1"/><rect x="404" y="585" width="3" height="1"/><rect x="410" y="585" width="3" height="1"/><rect x="416" y="585" width="3" height="1"/><rect x="422" y="585" width="3" height="1"/><rect x="428" y="585" width="3" height="1"/><rect x="434" y="585" width="3" height="1"/><rect x="440" y="585" width="3" height="1"/><rect x="446" y="585" width="3" height="1"/><rect x="452" y="585" width="3" height="1"/><rect x="458" y="585" width="3" height="1"/><rect x="464" y="585" width="3" height="1"/><rect x="470" y="585" width="3" height="1"/><rect x="476" y="585" width="3" height="1"/><rect x="482" y="585" width="3" height="1"/><rect x="488" y="585" width="3" height="1"/><rect x="494" y="585" width="3" height="1"/><rect x="500" y="585" width="3" height="1"/><rect x="506" y="585" width="3" height="1"/><rect x="512" y="585" width="3" height="1"/><rect x="518" y="585" width="3" height="1"/><rect x="524" y="585" width="3" height="1"/><rect x="530" y="585" width="3" height="1"/><rect x="536" y="585" width="3" height="1"/><rect x="542" y="585" width="3" height="1"/><rect x="548" y="585" width="3" height="1"/><rect x="554" y="585" width="3" height="1"/><rect x="560" y="585" width="3" height="1"/><rect x="566" y="585" width="3" height="1"/><rect x="572" y="585" width="3" height="1"/><rect x="578" y="585" width="3" height="1"/><rect x="584" y="585" width="3" height="1"/><rect x="590" y="585" width="3" height="1"/><rect x="596" y="585" width="3" height="1"/><rect x="602" y="585" width="3" height="1"/><rect x="608" y="585" width="3" height="1"/><rect x="614" y="585" width="3" height="1"/><rect x="620" y="585" width="3" height="1"/><rect x="626" y="585" width="3" height="1"/><rect x="632" y="585" width="3" height="1"/><rect x="638" y="585" width="3" height="1"/><rect x="644" y="585" width="3" height="1"/><rect x="650" y="585" width="3" height="1"/><rect x="656" y="585" width="3" height="1"/><rect x="662" y="585" width="3" height="1"/><rect x="668" y="585" width="3" height="1"/><rect x="674" y="585" width="3" height="1"/><rect x="680" y="585" width="3" height="1"/><rect x="686" y="585" width="3" height="1"/><rect x="692" y="585" width="3" height="1"/><rect x="698" y="585" width="3" height="1"/><rect x="704" y="585" width="3" height="1"/><rect x="710" y="585" width="3" height="1"/><rect x="716" y="585" width="3" height="1"/><rect x="722" y="585" width="3" height="1"/><rect x="728" y="585" width="3" height="1"/><rect x="734" y="585" width="3" height="1"/><rect x="740" y="585" width="3" height="1"/><rect x="746" y="585" width="3" height="1"/><rect x="752" y="585" width="3" height="1"/><rect x="758" y="585" width="3" height="1"/><rect x="764" y="585" width="3" height="1"/><rect x="770" y="585" width="3" height="1"/><rect x="776" y="585" width="3" height="1"/><rect x="782" y="585" width="3" height="1"/><rect x="788" y="585" width="3" height="1"/><rect x="794" y="585" width="3" height="1"/><rect x="800" y="585" width="3" height="1"/><rect x="806" y="585" width="3" height="1"/><rect x="812" y="585" width="3" height="1"/><rect x="818" y="585" width="3" height="1"/><rect x="824" y="585" width="3" height="1"/><rect x="830" y="585" width="3" height="1"/><rect x="836" y="585" width="3" height="1"/><rect x="842" y="585" width="3" height="1"/><rect x="848" y="585" width="3" height="1"/><rect x="854" y="585" width="3" height="1"/><rect x="860" y="585" width="3" height="1"/><rect x="866" y="585" width="3" height="1"/><rect x="872" y="585" width="3" height="1"/><rect x="878" y="585" width="3" height="1"/><rect x="884" y="585" width="3" height="1"/><rect x="890" y="585" width="3" height="1"/><rect x="896" y="585" width="3" height="1"/><rect x="902" y="585" width="3" height="1"/><rect x="908" y="585" width="3" height="1"/><rect x="914" y="585" width="3" height="1"/><rect x="920" y="585" width="3" height="1"/><rect x="926" y="585" width="3" height="1"/><rect x="932" y="585" width="3" height="1"/><rect x="938" y="585" width="3" height="1"/><rect x="944" y="585" width="3" height="1"/><rect x="950" y="585" width="3" height="1"/><rect x="956" y="585" width="3" height="1"/><rect x="962" y="585" width="3" height="1"/><rect x="968" y="585" width="3" height="1"/><rect x="974" y="585" width="3" height="1"/><rect x="980" y="585" width="3" height="1"/><rect x="986" y="585" width="3" height="1"/><rect x="992" y="585" width="3" height="1"/><rect x="998" y="585" width="3" height="1"/><rect x="1004" y="585" width="3" height="1"/><rect x="1010" y="585" width="3" height="1"/><rect x="1016" y="585" width="3" height="1"/><rect x="1022" y="585" width="3" height="1"/><rect x="1028" y="585" width="3" height="1"/><rect x="1034" y="585" width="3" height="1"/><rect x="1040" y="585" width="3" height="1"/><rect x="1046" y="585" width="3" height="1"/><rect x="1052" y="585" width="3" height="1"/><rect x="1058" y="585" width="3" height="1"/><rect x="1064" y="585" width="3" height="1"/><rect x="1070" y="585" width="3" height="1"/><rect x="1076" y="585" width="3" height="1"/><rect x="1082" y="585" width="3" height="1"/><rect x="1088" y="585" width="3" height="1"/><rect x="1094" y="585" width="3" height="1"/><rect x="1100" y="585" width="3" height="1"/><rect x="1106" y="585" width="3" height="1"/><rect x="1112" y="585" width="3" height="1"/><rect x="1118" y="585" width="3" height="1"/><rect x="1124" y="585" width="3" height="1"/><rect x="1130" y="585" width="3" height="1"/><rect x="1136" y="585" width="3" height="1"/><rect x="1142" y="585" width="3" height="1"/><rect x="1148" y="585" width="3" height="1"/><rect x="1154" y="585" width="3" height="1"/><rect x="1160" y="585" width="3" height="1"/><rect x="1166" y="585" width="3" height="1"/><rect x="1172" y="585" width="3" height="1"/><rect x="1178" y="585" width="3" height="1"/><rect x="1184" y="585" width="3" height="1"/><rect x="1190" y="585" width="3" height="1"/><rect x="1196" y="585" width="3" height="1"/><rect x="1202" y="585" width="3" height="1"/><rect x="1208" y="585" width="3" height="1"/><rect x="1214" y="585" width="3" height="1"/><rect x="1220" y="585" width="3" height="1"/><rect x="1226" y="585" width="3" height="1"/><rect x="1232" y="585" width="3" height="1"/><rect x="1238" y="585" width="3" height="1"/><rect x="1244" y="585" width="3" height="1"/><rect x="1250" y="585" width="3" height="1"/><rect x="1256" y="585" width="3" height="1"/><rect x="1262" y="585" width="3" height="1"/><rect x="1268" y="585" width="3" height="1"/><rect x="1274" y="585" width="3" height="1"/><rect x="1280" y="585" width="3" height="1"/><rect x="1286" y="585" width="3" height="1"/><rect x="1292" y="585" width="3" height="1"/><rect x="1298" y="585" width="3" height="1"/><rect x="1304" y="585" width="3" height="1"/><rect x="1310" y="585" width="3" height="1"/><rect x="1316" y="585" width="3" height="1"/><rect x="1322" y="585" width="3" height="1"/><rect x="1328" y="585" width="3" height="1"/><rect x="1334" y="585" width="3" height="1"/><rect x="1340" y="585" width="3" height="1"/><rect x="1346" y="585" width="3" height="1"/><rect x="1352" y="585" width="3" height="1"/><rect x="1358" y="585" width="3" height="1"/><rect x="1364" y="585" width="3" height="1"/><rect x="1370" y="585" width="3" height="1"/><rect x="1376" y="585" width="3" height="1"/><rect x="1382" y="585" width="3" height="1"/><rect x="1388" y="585" width="3" height="1"/><rect x="1394" y="585" width="3" height="1"/><rect x="1400" y="585" width="3" height="1"/><rect x="1406" y="585" width="3" height="1"/><rect x="1412" y="585" width="3" height="1"/><rect x="1418" y="585" width="3" height="1"/><rect x="1424" y="585" width="3" height="1"/><rect x="1430" y="585" width="3" height="1"/><rect x="1436" y="585" width="3" height="1"/><rect x="1442" y="585" width="3" height="1"/><rect x="1448" y="585" width="3" height="1"/><rect x="1454" y="585" width="3" height="1"/><rect x="1460" y="585" width="3" height="1"/><rect x="1466" y="585" width="3" height="1"/><rect x="1472" y="585" width="3" height="1"/><rect x="1478" y="585" width="3" height="1"/><rect x="1484" y="585" width="3" height="1"/><rect x="1490" y="585" width="3" height="1"/><rect x="1496" y="585" width="3" height="1"/><rect x="1502" y="585" width="3" height="1"/><rect x="1508" y="585" width="3" height="1"/><rect x="1514" y="585" width="3" height="1"/><rect x="1520" y="585" width="3" height="1"/><rect x="1526" y="585" width="3" height="1"/><rect x="1532" y="585" width="3" height="1"/><rect x="1538" y="585" width="3" height="1"/><rect x="1544" y="585" width="3" height="1"/><rect x="1550" y="585" width="3" height="1"/><rect x="1556" y="585" width="3" height="1"/><rect x="1562" y="585" width="3" height="1"/><rect x="1568" y="585" width="3" height="1"/><rect x="1574" y="585" width="3" height="1"/><rect x="1580" y="585" width="3" height="1"/><rect x="8" y="622" width="3" height="1"/><rect x="14" y="622" width="3" height="1"/><rect x="20" y="622" width="3" height="1"/><rect x="26" y="622" width="3" height="1"/><rect x="32" y="622" width="3" height="1"/><rect x="38" y="622" width="3" height="1"/><rect x="44" y="622" width="3" height="1"/><rect x="50" y="622" width="3" height="1"/><rect x="56" y="622" width="3" height="1"/><rect x="62" y="622" width="3" height="1"/><rect x="68" y="622" width="3" height="1"/><rect x="74" y="622" width="3" height="1"/><rect x="80" y="622" width="3" height="1"/><rect x="86" y="622" width="3" height="1"/><rect x="92" y="622" width="3" height="1"/><rect x="98" y="622" width="3" height="1"/><rect x="104" y="622" width="3" height="1"/><rect x="110" y="622" width="3" height="1"/><rect x="116" y="622" width="3" height="1"/><rect x="122" y="622" width="3" height="1"/><rect x="128" y="622" width="3" height="1"/><rect x="134" y="622" width="3" height="1"/><rect x="140" y="622" width="3" height="1"/><rect x="146" y="622" width="3" height="1"/><rect x="152" y="622" width="3" height="1"/><rect x="158" y="622" width="3" height="1"/><rect x="164" y="622" width="3" height="1"/><rect x="170" y="622" width="3" height="1"/><rect x="176" y="622" width="3" height="1"/><rect x="182" y="622" width="3" height="1"/><rect x="188" y="622" width="3" height="1"/><rect x="194" y="622" width="3" height="1"/><rect x="200" y="622" width="3" height="1"/><rect x="206" y="622" width="3" height="1"/><rect x="212" y="622" width="3" height="1"/><rect x="218" y="622" width="3" height="1"/><rect x="224" y="622" width="3" height="1"/><rect x="230" y="622" width="3" height="1"/><rect x="236" y="622" width="3" height="1"/><rect x="242" y="622" width="3" height="1"/><rect x="248" y="622" width="3" height="1"/><rect x="254" y="622" width="3" height="1"/><rect x="260" y="622" width="3" height="1"/><rect x="266" y="622" width="3" height="1"/><rect x="272" y="622" width="3" height="1"/><rect x="278" y="622" width="3" height="1"/><rect x="284" y="622" width="3" height="1"/><rect x="290" y="622" width="3" height="1"/><rect x="296" y="622" width="3" height="1"/><rect x="302" y="622" width="3" height="1"/><rect x="308" y="622" width="3" height="1"/><rect x="314" y="622" width="3" height="1"/><rect x="320" y="622" width="3" height="1"/><rect x="326" y="622" width="3" height="1"/><rect x="332" y="622" width="3" height="1"/><rect x="338" y="622" width="3" height="1"/><rect x="344" y="622" width="3" height="1"/><rect x="350" y="622" width="3" height="1"/><rect x="356" y="622" width="3" height="1"/><rect x="362" y="622" width="3" height="1"/><rect x="368" y="622" width="3" height="1"/><rect x="374" y="622" width="3" height="1"/><rect x="380" y="622" width="3" height="1"/><rect x="386" y="622" width="3" height="1"/><rect x="392" y="622" width="3" height="1"/><rect x="398" y="622" width="3" height="1"/><rect x="404" y="622" width="3" height="1"/><rect x="410" y="622" width="3" height="1"/><rect x="416" y="622" width="3" height="1"/><rect x="422" y="622" width="3" height="1"/><rect x="428" y="622" width="3" height="1"/><rect x="434" y="622" width="3" height="1"/><rect x="440" y="622" width="3" height="1"/><rect x="446" y="622" width="3" height="1"/><rect x="452" y="622" width="3" height="1"/><rect x="458" y="622" width="3" height="1"/><rect x="464" y="622" width="3" height="1"/><rect x="470" y="622" width="3" height="1"/><rect x="476" y="622" width="3" height="1"/><rect x="482" y="622" width="3" height="1"/><rect x="488" y="622" width="3" height="1"/><rect x="494" y="622" width="3" height="1"/><rect x="500" y="622" width="3" height="1"/><rect x="506" y="622" width="3" height="1"/><rect x="512" y="622" width="3" height="1"/><rect x="518" y="622" width="3" height="1"/><rect x="524" y="622" width="3" height="1"/><rect x="530" y="622" width="3" height="1"/><rect x="536" y="622" width="3" height="1"/><rect x="542" y="622" width="3" height="1"/><rect x="548" y="622" width="3" height="1"/><rect x="554" y="622" width="3" height="1"/><rect x="560" y="622" width="3" height="1"/><rect x="566" y="622" width="3" height="1"/><rect x="572" y="622" width="3" height="1"/><rect x="578" y="622" width="3" height="1"/><rect x="584" y="622" width="3" height="1"/><rect x="590" y="622" width="3" height="1"/><rect x="596" y="622" width="3" height="1"/><rect x="602" y="622" width="3" height="1"/><rect x="608" y="622" width="3" height="1"/><rect x="614" y="622" width="3" height="1"/><rect x="620" y="622" width="3" height="1"/><rect x="626" y="622" width="3" height="1"/><rect x="632" y="622" width="3" height="1"/><rect x="638" y="622" width="3" height="1"/><rect x="644" y="622" width="3" height="1"/><rect x="650" y="622" width="3" height="1"/><rect x="656" y="622" width="3" height="1"/><rect x="662" y="622" width="3" height="1"/><rect x="668" y="622" width="3" height="1"/><rect x="674" y="622" width="3" height="1"/><rect x="680" y="622" width="3" height="1"/><rect x="686" y="622" width="3" height="1"/><rect x="692" y="622" width="3" height="1"/><rect x="698" y="622" width="3" height="1"/><rect x="704" y="622" width="3" height="1"/><rect x="710" y="622" width="3" height="1"/><rect x="716" y="622" width="3" height="1"/><rect x="722" y="622" width="3" height="1"/><rect x="728" y="622" width="3" height="1"/><rect x="734" y="622" width="3" height="1"/><rect x="740" y="622" width="3" height="1"/><rect x="746" y="622" width="3" height="1"/><rect x="752" y="622" width="3" height="1"/><rect x="758" y="622" width="3" height="1"/><rect x="764" y="622" width="3" height="1"/><rect x="770" y="622" width="3" height="1"/><rect x="776" y="622" width="3" height="1"/><rect x="782" y="622" width="3" height="1"/><rect x="788" y="622" width="3" height="1"/><rect x="794" y="622" width="3" height="1"/><rect x="800" y="622" width="3" height="1"/><rect x="806" y="622" width="3" height="1"/><rect x="812" y="622" width="3" height="1"/><rect x="818" y="622" width="3" height="1"/><rect x="824" y="622" width="3" height="1"/><rect x="830" y="622" width="3" height="1"/><rect x="836" y="622" width="3" height="1"/><rect x="842" y="622" width="3" height="1"/><rect x="848" y="622" width="3" height="1"/><rect x="854" y="622" width="3" height="1"/><rect x="860" y="622" width="3" height="1"/><rect x="866" y="622" width="3" height="1"/><rect x="872" y="622" width="3" height="1"/><rect x="878" y="622" width="3" height="1"/><rect x="884" y="622" width="3" height="1"/><rect x="890" y="622" width="3" height="1"/><rect x="896" y="622" width="3" height="1"/><rect x="902" y="622" width="3" height="1"/><rect x="908" y="622" width="3" height="1"/><rect x="914" y="622" width="3" height="1"/><rect x="920" y="622" width="3" height="1"/><rect x="926" y="622" width="3" height="1"/><rect x="932" y="622" width="3" height="1"/><rect x="938" y="622" width="3" height="1"/><rect x="944" y="622" width="3" height="1"/><rect x="950" y="622" width="3" height="1"/><rect x="956" y="622" width="3" height="1"/><rect x="962" y="622" width="3" height="1"/><rect x="968" y="622" width="3" height="1"/><rect x="974" y="622" width="3" height="1"/><rect x="980" y="622" width="3" height="1"/><rect x="986" y="622" width="3" height="1"/><rect x="992" y="622" width="3" height="1"/><rect x="998" y="622" width="3" height="1"/><rect x="1004" y="622" width="3" height="1"/><rect x="1010" y="622" width="3" height="1"/><rect x="1016" y="622" width="3" height="1"/><rect x="1022" y="622" width="3" height="1"/><rect x="1028" y="622" width="3" height="1"/><rect x="1034" y="622" width="3" height="1"/><rect x="1040" y="622" width="3" height="1"/><rect x="1046" y="622" width="3" height="1"/><rect x="1052" y="622" width="3" height="1"/><rect x="1058" y="622" width="3" height="1"/><rect x="1064" y="622" width="3" height="1"/><rect x="1070" y="622" width="3" height="1"/><rect x="1076" y="622" width="3" height="1"/><rect x="1082" y="622" width="3" height="1"/><rect x="1088" y="622" width="3" height="1"/><rect x="1094" y="622" width="3" height="1"/><rect x="1100" y="622" width="3" height="1"/><rect x="1106" y="622" width="3" height="1"/><rect x="1112" y="622" width="3" height="1"/><rect x="1118" y="622" width="3" height="1"/><rect x="1124" y="622" width="3" height="1"/><rect x="1130" y="622" width="3" height="1"/><rect x="1136" y="622" width="3" height="1"/><rect x="1142" y="622" width="3" height="1"/><rect x="1148" y="622" width="3" height="1"/><rect x="1154" y="622" width="3" height="1"/><rect x="1160" y="622" width="3" height="1"/><rect x="1166" y="622" width="3" height="1"/><rect x="1172" y="622" width="3" height="1"/><rect x="1178" y="622" width="3" height="1"/><rect x="1184" y="622" width="3" height="1"/><rect x="1190" y="622" width="3" height="1"/><rect x="1196" y="622" width="3" height="1"/><rect x="1202" y="622" width="3" height="1"/><rect x="1208" y="622" width="3" height="1"/><rect x="1214" y="622" width="3" height="1"/><rect x="1220" y="622" width="3" height="1"/><rect x="1226" y="622" width="3" height="1"/><rect x="1232" y="622" width="3" height="1"/><rect x="1238" y="622" width="3" height="1"/><rect x="1244" y="622" width="3" height="1"/><rect x="1250" y="622" width="3" height="1"/><rect x="1256" y="622" width="3" height="1"/><rect x="1262" y="622" width="3" height="1"/><rect x="1268" y="622" width="3" height="1"/><rect x="1274" y="622" width="3" height="1"/><rect x="1280" y="622" width="3" height="1"/><rect x="1286" y="622" width="3" height="1"/><rect x="1292" y="622" width="3" height="1"/><rect x="1298" y="622" width="3" height="1"/><rect x="1304" y="622" width="3" height="1"/><rect x="1310" y="622" width="3" height="1"/><rect x="1316" y="622" width="3" height="1"/><rect x="1322" y="622" width="3" height="1"/><rect x="1328" y="622" width="3" height="1"/><rect x="1334" y="622" width="3" height="1"/><rect x="1340" y="622" width="3" height="1"/><rect x="1346" y="622" width="3" height="1"/><rect x="1352" y="622" width="3" height="1"/><rect x="1358" y="622" width="3" height="1"/><rect x="1364" y="622" width="3" height="1"/><rect x="1370" y="622" width="3" height="1"/><rect x="1376" y="622" width="3" height="1"/><rect x="1382" y="622" width="3" height="1"/><rect x="1388" y="622" width="3" height="1"/><rect x="1394" y="622" width="3" height="1"/><rect x="1400" y="622" width="3" height="1"/><rect x="1406" y="622" width="3" height="1"/><rect x="1412" y="622" width="3" height="1"/><rect x="1418" y="622" width="3" height="1"/><rect x="1424" y="622" width="3" height="1"/><rect x="1430" y="622" width="3" height="1"/><rect x="1436" y="622" width="3" height="1"/><rect x="1442" y="622" width="3" height="1"/><rect x="1448" y="622" width="3" height="1"/><rect x="1454" y="622" width="3" height="1"/><rect x="1460" y="622" width="3" height="1"/><rect x="1466" y="622" width="3" height="1"/><rect x="1472" y="622" width="3" height="1"/><rect x="1478" y="622" width="3" height="1"/><rect x="1484" y="622" width="3" height="1"/><rect x="1490" y="622" width="3" height="1"/><rect x="1496" y="622" width="3" height="1"/><rect x="1502" y="622" width="3" height="1"/><rect x="1508" y="622" width="3" height="1"/><rect x="1514" y="622" width="3" height="1"/><rect x="1520" y="622" width="3" height="1"/><rect x="1526" y="622" width="3" height="1"/><rect x="1532" y="622" width="3" height="1"/><rect x="1538" y="622" width="3" height="1"/><rect x="1544" y="622" width="3" height="1"/><rect x="1550" y="622" width="3" height="1"/><rect x="1556" y="622" width="3" height="1"/><rect x="1562" y="622" width="3" height="1"/><rect x="1568" y="622" width="3" height="1"/><rect x="1574" y="622" width="3" height="1"/><rect x="1580" y="622" width="3" height="1"/></g><text x="11" y="568" font-family='"Liberation Sans", Arial, sans-serif' font-size="9.3" fill="#000">RSI(14) 38.7673</text><g font-family='"Liberation Sans", Arial, sans-serif' font-size="10" letter-spacing="-0.55" fill="#000"><text x="1587" y="566">100</text><text x="1586" y="589">70</text><text x="1586" y="626">30</text><text x="1586" y="648">0</text></g><g fill="#000" shape-rendering="crispEdges"><rect x="1584" y="557" width="2" height="1"/></g><g clip-path="url(#cr)"><path d="M550 577h3v1h-3zM548 578h2v1h-2zM553 578h2v1h-2zM546 579h2v1h-2zM555 579h3v1h-3zM544 580h2v1h-2zM558 580h5v1h-5zM646 580h3v1h-3zM542 581h2v1h-2zM563 581h8v1h-8zM644 581h2v1h-2zM649 581h4v1h-4zM659 581h5v1h-5zM539 582h3v1h-3zM571 582h6v1h-6zM642 582h2v1h-2zM653 582h6v1h-6zM664 582h1v1h-1zM726 582h2v1h-2zM537 583h2v1h-2zM577 583h2v1h-2zM640 583h2v1h-2zM665 583h2v1h-2zM724 583h2v1h-2zM728 583h1v1h-1zM535 584h2v1h-2zM579 584h3v1h-3zM637 584h3v1h-3zM667 584h1v1h-1zM722 584h2v1h-2zM729 584h1v1h-1zM533 585h2v1h-2zM582 585h2v1h-2zM633 585h4v1h-4zM668 585h1v1h-1zM720 585h2v1h-2zM729 585h1v1h-1zM531 586h2v1h-2zM584 586h2v1h-2zM598 586h2v1h-2zM629 586h4v1h-4zM669 586h2v1h-2zM718 586h2v1h-2zM730 586h1v1h-1zM530 587h1v1h-1zM586 587h1v1h-1zM596 587h2v1h-2zM600 587h2v1h-2zM625 587h4v1h-4zM671 587h1v1h-1zM715 587h3v1h-3zM731 587h1v1h-1zM528 588h2v1h-2zM587 588h2v1h-2zM594 588h2v1h-2zM602 588h2v1h-2zM619 588h6v1h-6zM672 588h1v1h-1zM713 588h2v1h-2zM732 588h1v1h-1zM523 589h5v1h-5zM589 589h2v1h-2zM592 589h2v1h-2zM604 589h2v1h-2zM611 589h8v1h-8zM673 589h2v1h-2zM710 589h3v1h-3zM733 589h1v1h-1zM515 590h8v1h-8zM591 590h1v1h-1zM606 590h5v1h-5zM675 590h1v1h-1zM707 590h3v1h-3zM733 590h1v1h-1zM755 590h14v1h-14zM510 591h5v1h-5zM676 591h1v1h-1zM705 591h2v1h-2zM734 591h1v1h-1zM751 591h4v1h-4zM769 591h2v1h-2zM508 592h2v1h-2zM677 592h2v1h-2zM683 592h22v1h-22zM735 592h1v1h-1zM749 592h2v1h-2zM771 592h3v1h-3zM254 593h2v1h-2zM371 593h5v1h-5zM506 593h2v1h-2zM679 593h4v1h-4zM736 593h2v1h-2zM747 593h2v1h-2zM774 593h5v1h-5zM1111 593h1v1h-1zM252 594h2v1h-2zM256 594h2v1h-2zM366 594h5v1h-5zM376 594h1v1h-1zM504 594h2v1h-2zM738 594h2v1h-2zM746 594h1v1h-1zM779 594h5v1h-5zM1110 594h1v1h-1zM1112 594h1v1h-1zM250 595h2v1h-2zM258 595h1v1h-1zM275 595h5v1h-5zM363 595h3v1h-3zM377 595h2v1h-2zM438 595h10v1h-10zM493 595h11v1h-11zM740 595h2v1h-2zM744 595h2v1h-2zM784 595h1v1h-1zM1109 595h1v1h-1zM1113 595h1v1h-1zM179 596h6v1h-6zM248 596h2v1h-2zM259 596h2v1h-2zM269 596h6v1h-6zM280 596h2v1h-2zM361 596h2v1h-2zM379 596h1v1h-1zM436 596h2v1h-2zM448 596h2v1h-2zM489 596h4v1h-4zM742 596h2v1h-2zM785 596h2v1h-2zM1108 596h1v1h-1zM1114 596h1v1h-1zM175 597h4v1h-4zM185 597h2v1h-2zM246 597h2v1h-2zM261 597h2v1h-2zM265 597h4v1h-4zM282 597h1v1h-1zM359 597h2v1h-2zM380 597h1v1h-1zM434 597h2v1h-2zM450 597h1v1h-1zM487 597h2v1h-2zM787 597h1v1h-1zM1094 597h2v1h-2zM1107 597h1v1h-1zM1115 597h1v1h-1zM174 598h1v1h-1zM187 598h3v1h-3zM243 598h3v1h-3zM263 598h2v1h-2zM283 598h2v1h-2zM293 598h3v1h-3zM358 598h1v1h-1zM381 598h2v1h-2zM432 598h2v1h-2zM451 598h2v1h-2zM461 598h11v1h-11zM485 598h2v1h-2zM788 598h1v1h-1zM1091 598h3v1h-3zM1096 598h2v1h-2zM1107 598h1v1h-1zM1115 598h1v1h-1zM173 599h1v1h-1zM190 599h2v1h-2zM241 599h2v1h-2zM285 599h2v1h-2zM289 599h4v1h-4zM296 599h1v1h-1zM357 599h1v1h-1zM383 599h4v1h-4zM419 599h13v1h-13zM453 599h2v1h-2zM457 599h4v1h-4zM472 599h2v1h-2zM484 599h1v1h-1zM789 599h2v1h-2zM1089 599h2v1h-2zM1098 599h1v1h-1zM1106 599h1v1h-1zM1116 599h1v1h-1zM30 600h10v1h-10zM143 600h4v1h-4zM171 600h2v1h-2zM192 600h1v1h-1zM239 600h2v1h-2zM287 600h2v1h-2zM297 600h1v1h-1zM357 600h1v1h-1zM387 600h5v1h-5zM411 600h8v1h-8zM455 600h2v1h-2zM474 600h1v1h-1zM483 600h1v1h-1zM791 600h1v1h-1zM1006 600h11v1h-11zM1037 600h4v1h-4zM1085 600h4v1h-4zM1099 600h2v1h-2zM1105 600h1v1h-1zM1117 600h1v1h-1zM7 601h4v1h-4zM27 601h3v1h-3zM40 601h1v1h-1zM142 601h1v1h-1zM147 601h8v1h-8zM170 601h1v1h-1zM193 601h1v1h-1zM238 601h1v1h-1zM298 601h1v1h-1zM356 601h1v1h-1zM392 601h2v1h-2zM406 601h5v1h-5zM475 601h2v1h-2zM481 601h2v1h-2zM792 601h1v1h-1zM878 601h5v1h-5zM1004 601h2v1h-2zM1017 601h4v1h-4zM1033 601h4v1h-4zM1041 601h4v1h-4zM1071 601h4v1h-4zM1081 601h4v1h-4zM1101 601h2v1h-2zM1104 601h1v1h-1zM1118 601h1v1h-1zM11 602h8v1h-8zM25 602h2v1h-2zM40 602h1v1h-1zM141 602h1v1h-1zM155 602h6v1h-6zM169 602h1v1h-1zM194 602h1v1h-1zM237 602h1v1h-1zM299 602h1v1h-1zM355 602h1v1h-1zM394 602h1v1h-1zM404 602h2v1h-2zM477 602h2v1h-2zM480 602h1v1h-1zM793 602h1v1h-1zM875 602h3v1h-3zM883 602h5v1h-5zM903 602h1v1h-1zM1002 602h2v1h-2zM1021 602h12v1h-12zM1045 602h3v1h-3zM1069 602h2v1h-2zM1075 602h6v1h-6zM1103 602h1v1h-1zM1119 602h1v1h-1zM19 603h6v1h-6zM41 603h1v1h-1zM140 603h1v1h-1zM161 603h4v1h-4zM168 603h1v1h-1zM195 603h2v1h-2zM236 603h1v1h-1zM299 603h1v1h-1zM354 603h1v1h-1zM395 603h2v1h-2zM402 603h2v1h-2zM479 603h1v1h-1zM794 603h1v1h-1zM873 603h2v1h-2zM888 603h2v1h-2zM901 603h2v1h-2zM904 603h1v1h-1zM926 603h3v1h-3zM1000 603h2v1h-2zM1048 603h1v1h-1zM1068 603h1v1h-1zM1120 603h2v1h-2zM42 604h1v1h-1zM118 604h2v1h-2zM139 604h1v1h-1zM165 604h3v1h-3zM197 604h1v1h-1zM235 604h1v1h-1zM300 604h1v1h-1zM353 604h1v1h-1zM397 604h2v1h-2zM400 604h2v1h-2zM795 604h1v1h-1zM871 604h2v1h-2zM890 604h1v1h-1zM899 604h2v1h-2zM905 604h1v1h-1zM923 604h3v1h-3zM929 604h4v1h-4zM999 604h1v1h-1zM1049 604h1v1h-1zM1067 604h1v1h-1zM1122 604h1v1h-1zM42 605h1v1h-1zM115 605h3v1h-3zM120 605h2v1h-2zM138 605h1v1h-1zM198 605h1v1h-1zM203 605h5v1h-5zM234 605h1v1h-1zM301 605h1v1h-1zM343 605h2v1h-2zM353 605h1v1h-1zM399 605h1v1h-1zM796 605h1v1h-1zM869 605h2v1h-2zM891 605h2v1h-2zM898 605h1v1h-1zM906 605h1v1h-1zM921 605h2v1h-2zM933 605h3v1h-3zM997 605h2v1h-2zM1049 605h1v1h-1zM1065 605h2v1h-2zM1123 605h2v1h-2zM43 606h1v1h-1zM113 606h2v1h-2zM122 606h2v1h-2zM137 606h1v1h-1zM199 606h4v1h-4zM208 606h2v1h-2zM233 606h1v1h-1zM302 606h1v1h-1zM342 606h1v1h-1zM345 606h4v1h-4zM352 606h1v1h-1zM797 606h1v1h-1zM868 606h1v1h-1zM893 606h2v1h-2zM896 606h2v1h-2zM907 606h1v1h-1zM918 606h3v1h-3zM936 606h2v1h-2zM996 606h1v1h-1zM1050 606h1v1h-1zM1064 606h1v1h-1zM1125 606h2v1h-2zM44 607h1v1h-1zM107 607h6v1h-6zM124 607h2v1h-2zM136 607h1v1h-1zM210 607h1v1h-1zM232 607h1v1h-1zM303 607h1v1h-1zM342 607h1v1h-1zM349 607h3v1h-3zM798 607h1v1h-1zM803 607h14v1h-14zM855 607h2v1h-2zM867 607h1v1h-1zM895 607h1v1h-1zM908 607h1v1h-1zM916 607h2v1h-2zM938 607h1v1h-1zM995 607h1v1h-1zM1051 607h1v1h-1zM1063 607h1v1h-1zM1127 607h2v1h-2zM1147 607h6v1h-6zM44 608h1v1h-1zM103 608h4v1h-4zM126 608h10v1h-10zM211 608h2v1h-2zM221 608h11v1h-11zM304 608h1v1h-1zM341 608h1v1h-1zM799 608h4v1h-4zM817 608h4v1h-4zM854 608h1v1h-1zM857 608h2v1h-2zM865 608h2v1h-2zM909 608h1v1h-1zM914 608h2v1h-2zM939 608h2v1h-2zM993 608h2v1h-2zM1052 608h1v1h-1zM1061 608h2v1h-2zM1129 608h4v1h-4zM1139 608h8v1h-8zM1153 608h2v1h-2zM45 609h1v1h-1zM102 609h1v1h-1zM213 609h2v1h-2zM217 609h4v1h-4zM305 609h1v1h-1zM340 609h1v1h-1zM821 609h3v1h-3zM853 609h1v1h-1zM859 609h3v1h-3zM864 609h1v1h-1zM910 609h1v1h-1zM912 609h2v1h-2zM941 609h2v1h-2zM992 609h1v1h-1zM1053 609h1v1h-1zM1059 609h2v1h-2zM1133 609h6v1h-6zM1155 609h3v1h-3zM46 610h1v1h-1zM101 610h1v1h-1zM215 610h2v1h-2zM306 610h1v1h-1zM339 610h1v1h-1zM824 610h2v1h-2zM852 610h1v1h-1zM862 610h2v1h-2zM911 610h1v1h-1zM943 610h1v1h-1zM982 610h10v1h-10zM1053 610h1v1h-1zM1058 610h1v1h-1zM1158 610h2v1h-2zM1207 610h2v1h-2zM1221 610h4v1h-4zM46 611h1v1h-1zM99 611h2v1h-2zM307 611h2v1h-2zM339 611h1v1h-1zM826 611h1v1h-1zM851 611h1v1h-1zM944 611h2v1h-2zM979 611h3v1h-3zM1054 611h1v1h-1zM1056 611h2v1h-2zM1160 611h1v1h-1zM1206 611h1v1h-1zM1209 611h4v1h-4zM1217 611h4v1h-4zM1225 611h2v1h-2zM47 612h2v1h-2zM98 612h1v1h-1zM309 612h1v1h-1zM338 612h1v1h-1zM827 612h2v1h-2zM851 612h1v1h-1zM946 612h1v1h-1zM977 612h2v1h-2zM1055 612h1v1h-1zM1161 612h1v1h-1zM1205 612h1v1h-1zM1213 612h4v1h-4zM1227 612h3v1h-3zM49 613h2v1h-2zM97 613h1v1h-1zM310 613h1v1h-1zM337 613h1v1h-1zM829 613h2v1h-2zM850 613h1v1h-1zM947 613h2v1h-2zM975 613h2v1h-2zM1162 613h1v1h-1zM1203 613h2v1h-2zM1230 613h3v1h-3zM51 614h3v1h-3zM96 614h1v1h-1zM311 614h4v1h-4zM336 614h1v1h-1zM831 614h2v1h-2zM849 614h1v1h-1zM949 614h2v1h-2zM973 614h2v1h-2zM1163 614h1v1h-1zM1202 614h1v1h-1zM1233 614h4v1h-4zM1243 614h5v1h-5zM54 615h3v1h-3zM95 615h1v1h-1zM315 615h16v1h-16zM336 615h1v1h-1zM833 615h4v1h-4zM848 615h1v1h-1zM951 615h4v1h-4zM972 615h1v1h-1zM1163 615h1v1h-1zM1201 615h1v1h-1zM1237 615h6v1h-6zM57 616h4v1h-4zM93 616h2v1h-2zM331 616h5v1h-5zM837 616h11v1h-11zM955 616h6v1h-6zM971 616h1v1h-1zM1164 616h1v1h-1zM1200 616h1v1h-1zM61 617h6v1h-6zM91 617h2v1h-2zM961 617h2v1h-2zM969 617h2v1h-2zM1165 617h1v1h-1zM1195 617h5v1h-5zM67 618h6v1h-6zM90 618h1v1h-1zM963 618h3v1h-3zM968 618h1v1h-1zM1166 618h1v1h-1zM1171 618h6v1h-6zM1190 618h5v1h-5zM73 619h2v1h-2zM88 619h2v1h-2zM966 619h2v1h-2zM1167 619h4v1h-4zM1177 619h2v1h-2zM1187 619h3v1h-3zM75 620h3v1h-3zM83 620h5v1h-5zM1179 620h3v1h-3zM1185 620h2v1h-2zM78 621h5v1h-5zM1182 621h3v1h-3z" fill="#1e90ff" shape-rendering="crispEdges"/></g><text x="11" y="666" font-family='"Liberation Sans", Arial, sans-serif' font-size="9.3" fill="#000">MACD(12,26,9) -0.005219 -0.005208</text><g font-family='"Liberation Sans", Arial, sans-serif' font-size="10" letter-spacing="-0.55" fill="#000"><text x="1587.5" y="664">0.009412</text><text x="1587.5" y="715">0.00</text><text x="1587" y="746">-0.006386</text></g><g fill="#000" shape-rendering="crispEdges"><rect x="1584" y="711" width="2" height="1"/><rect x="1584" y="748" width="2" height="1"/></g><g clip-path="url(#cd)" fill="#c0c0c0" shape-rendering="crispEdges"><rect x="7" y="702" width="1" height="9"/><rect x="15" y="703" width="1" height="8"/><rect x="23" y="704" width="1" height="7"/><rect x="31" y="704" width="1" height="7"/><rect x="39" y="704" width="1" height="7"/><rect x="47" y="709" width="1" height="2"/><rect x="55" y="711" width="1" height="4"/><rect x="63" y="711" width="1" height="10"/><rect x="71" y="711" width="1" height="15"/><rect x="79" y="711" width="1" height="21"/><rect x="87" y="711" width="1" height="25"/><rect x="95" y="711" width="1" height="26"/><rect x="103" y="711" width="1" height="24"/><rect x="111" y="711" width="1" height="22"/><rect x="119" y="711" width="1" height="19"/><rect x="127" y="711" width="1" height="18"/><rect x="135" y="711" width="1" height="17"/><rect x="143" y="711" width="1" height="13"/><rect x="151" y="711" width="1" height="9"/><rect x="159" y="711" width="1" height="7"/><rect x="167" y="711" width="1" height="6"/><rect x="175" y="711" width="1" height="2"/><rect x="183" y="710" width="1" height="1"/><rect x="191" y="708" width="1" height="3"/><rect x="199" y="710" width="1" height="1"/><rect x="207" y="710" width="1" height="1"/><rect x="215" y="711" width="1" height="3"/><rect x="223" y="711" width="1" height="4"/><rect x="231" y="711" width="1" height="5"/><rect x="239" y="711" width="1" height="3"/><rect x="247" y="710" width="1" height="1"/><rect x="255" y="705" width="1" height="6"/><rect x="263" y="704" width="1" height="7"/><rect x="271" y="701" width="1" height="10"/><rect x="279" y="699" width="1" height="12"/><rect x="287" y="700" width="1" height="11"/><rect x="295" y="699" width="1" height="12"/><rect x="303" y="703" width="1" height="8"/><rect x="311" y="710" width="1" height="1"/><rect x="319" y="711" width="1" height="5"/><rect x="327" y="711" width="1" height="10"/><rect x="335" y="711" width="1" height="14"/><rect x="343" y="711" width="1" height="13"/><rect x="351" y="711" width="1" height="13"/><rect x="359" y="711" width="1" height="7"/><rect x="367" y="711" width="1" height="1"/><rect x="375" y="705" width="1" height="6"/><rect x="383" y="704" width="1" height="7"/><rect x="391" y="703" width="1" height="8"/><rect x="399" y="705" width="1" height="6"/><rect x="407" y="704" width="1" height="7"/><rect x="415" y="703" width="1" height="8"/><rect x="423" y="702" width="1" height="9"/><rect x="431" y="701" width="1" height="10"/><rect x="439" y="698" width="1" height="13"/><rect x="447" y="697" width="1" height="14"/><rect x="455" y="697" width="1" height="14"/><rect x="463" y="697" width="1" height="14"/><rect x="471" y="697" width="1" height="14"/><rect x="479" y="699" width="1" height="12"/><rect x="487" y="698" width="1" height="13"/><rect x="495" y="696" width="1" height="15"/><rect x="503" y="694" width="1" height="17"/><rect x="511" y="691" width="1" height="20"/><rect x="519" y="689" width="1" height="22"/><rect x="527" y="687" width="1" height="24"/><rect x="535" y="682" width="1" height="29"/><rect x="543" y="677" width="1" height="34"/><rect x="551" y="669" width="1" height="42"/><rect x="559" y="664" width="1" height="47"/><rect x="567" y="661" width="1" height="50"/><rect x="575" y="660" width="1" height="51"/><rect x="583" y="660" width="1" height="51"/><rect x="591" y="662" width="1" height="49"/><rect x="599" y="662" width="1" height="49"/><rect x="607" y="664" width="1" height="47"/><rect x="615" y="666" width="1" height="45"/><rect x="623" y="667" width="1" height="44"/><rect x="631" y="667" width="1" height="44"/><rect x="639" y="666" width="1" height="45"/><rect x="647" y="663" width="1" height="48"/><rect x="655" y="662" width="1" height="49"/><rect x="663" y="661" width="1" height="50"/><rect x="671" y="662" width="1" height="49"/><rect x="679" y="666" width="1" height="45"/><rect x="687" y="668" width="1" height="43"/><rect x="695" y="671" width="1" height="40"/><rect x="703" y="674" width="1" height="37"/><rect x="711" y="675" width="1" height="36"/><rect x="719" y="674" width="1" height="37"/><rect x="727" y="672" width="1" height="39"/><rect x="735" y="673" width="1" height="38"/><rect x="743" y="676" width="1" height="35"/><rect x="751" y="676" width="1" height="35"/><rect x="759" y="676" width="1" height="35"/><rect x="767" y="676" width="1" height="35"/><rect x="775" y="678" width="1" height="33"/><rect x="783" y="680" width="1" height="31"/><rect x="791" y="683" width="1" height="28"/><rect x="799" y="689" width="1" height="22"/><rect x="807" y="694" width="1" height="17"/><rect x="815" y="698" width="1" height="13"/><rect x="823" y="702" width="1" height="9"/><rect x="831" y="708" width="1" height="3"/><rect x="839" y="711" width="1" height="2"/><rect x="847" y="711" width="1" height="6"/><rect x="855" y="711" width="1" height="6"/><rect x="863" y="711" width="1" height="8"/><rect x="871" y="711" width="1" height="7"/><rect x="879" y="711" width="1" height="5"/><rect x="887" y="711" width="1" height="4"/><rect x="895" y="711" width="1" height="4"/><rect x="903" y="711" width="1" height="3"/><rect x="911" y="711" width="1" height="6"/><rect x="919" y="711" width="1" height="6"/><rect x="927" y="711" width="1" height="5"/><rect x="935" y="711" width="1" height="5"/><rect x="943" y="711" width="1" height="7"/><rect x="951" y="711" width="1" height="12"/><rect x="959" y="711" width="1" height="16"/><rect x="967" y="711" width="1" height="20"/><rect x="975" y="711" width="1" height="21"/><rect x="983" y="711" width="1" height="21"/><rect x="991" y="711" width="1" height="20"/><rect x="999" y="711" width="1" height="17"/><rect x="1007" y="711" width="1" height="13"/><rect x="1015" y="711" width="1" height="10"/><rect x="1023" y="711" width="1" height="7"/><rect x="1031" y="711" width="1" height="6"/><rect x="1039" y="711" width="1" height="4"/><rect x="1047" y="711" width="1" height="2"/><rect x="1055" y="711" width="1" height="6"/><rect x="1063" y="711" width="1" height="6"/><rect x="1071" y="711" width="1" height="4"/><rect x="1079" y="711" width="1" height="3"/><rect x="1087" y="711" width="1" height="1"/><rect x="1095" y="709" width="1" height="2"/><rect x="1103" y="709" width="1" height="2"/><rect x="1111" y="704" width="1" height="7"/><rect x="1119" y="704" width="1" height="7"/><rect x="1127" y="707" width="1" height="4"/><rect x="1135" y="711" width="1" height="1"/><rect x="1143" y="711" width="1" height="2"/><rect x="1151" y="711" width="1" height="4"/><rect x="1159" y="711" width="1" height="6"/><rect x="1167" y="711" width="1" height="14"/><rect x="1175" y="711" width="1" height="20"/><rect x="1183" y="711" width="1" height="27"/><rect x="1191" y="711" width="1" height="31"/><rect x="1199" y="711" width="1" height="33"/><rect x="1207" y="711" width="1" height="32"/><rect x="1215" y="711" width="1" height="31"/><rect x="1223" y="711" width="1" height="30"/><rect x="1231" y="711" width="1" height="30"/><rect x="1239" y="711" width="1" height="31"/><rect x="1247" y="711" width="1" height="31"/></g><g clip-path="url(#cd)"><path d="M613 663h3v1h-3zM619 663h3v1h-3zM625 663h3v1h-3zM631 663h3v1h-3zM607 664h3v1h-3zM637 664h3v1h-3zM643 664h3v1h-3zM649 664h3v1h-3zM655 664h3v1h-3zM661 664h3v1h-3zM667 664h3v1h-3zM673 664h3v1h-3zM679 664h3v1h-3zM601 665h3v1h-3zM685 665h3v1h-3zM691 665h3v1h-3zM697 665h2v1h-2zM699 666h1v1h-1zM703 666h3v1h-3zM595 667h3v1h-3zM709 667h3v1h-3zM715 668h3v1h-3zM721 668h2v1h-2zM590 669h2v1h-2zM723 669h1v1h-1zM727 669h2v1h-2zM589 670h1v1h-1zM729 670h1v1h-1zM585 671h1v1h-1zM733 671h3v1h-3zM583 672h2v1h-2zM739 672h3v1h-3zM745 672h2v1h-2zM747 673h1v1h-1zM751 673h3v1h-3zM578 674h2v1h-2zM757 674h3v1h-3zM577 675h1v1h-1zM763 675h3v1h-3zM769 675h3v1h-3zM775 675h3v1h-3zM781 676h3v1h-3zM571 677h3v1h-3zM787 677h3v1h-3zM793 678h3v1h-3zM566 679h2v1h-2zM799 679h2v1h-2zM565 680h1v1h-1zM801 680h1v1h-1zM805 681h3v1h-3zM560 682h2v1h-2zM811 682h2v1h-2zM559 683h1v1h-1zM813 683h1v1h-1zM817 684h2v1h-2zM554 685h2v1h-2zM819 685h1v1h-1zM553 686h1v1h-1zM823 686h1v1h-1zM824 687h2v1h-2zM547 688h3v1h-3zM829 689h1v1h-1zM541 690h3v1h-3zM830 690h2v1h-2zM537 691h1v1h-1zM535 692h2v1h-2zM835 692h1v1h-1zM529 693h3v1h-3zM836 693h2v1h-2zM523 694h3v1h-3zM517 695h3v1h-3zM841 695h1v1h-1zM507 696h1v1h-1zM511 696h3v1h-3zM842 696h2v1h-2zM7 697h2v1h-2zM499 697h3v1h-3zM505 697h2v1h-2zM9 698h1v1h-1zM483 698h1v1h-1zM487 698h3v1h-3zM493 698h3v1h-3zM847 698h1v1h-1zM13 699h3v1h-3zM469 699h3v1h-3zM475 699h3v1h-3zM481 699h2v1h-2zM848 699h2v1h-2zM19 700h3v1h-3zM25 700h3v1h-3zM31 700h3v1h-3zM459 700h1v1h-1zM463 700h3v1h-3zM37 701h3v1h-3zM451 701h3v1h-3zM457 701h2v1h-2zM853 701h1v1h-1zM43 702h3v1h-3zM445 702h3v1h-3zM854 702h2v1h-2zM49 703h3v1h-3zM307 703h3v1h-3zM313 703h2v1h-2zM435 703h1v1h-1zM439 703h3v1h-3zM55 704h3v1h-3zM301 704h3v1h-3zM315 704h1v1h-1zM319 704h2v1h-2zM429 704h1v1h-1zM433 704h2v1h-2zM859 704h1v1h-1zM61 705h3v1h-3zM295 705h3v1h-3zM321 705h1v1h-1zM427 705h2v1h-2zM860 705h2v1h-2zM289 706h3v1h-3zM325 706h3v1h-3zM422 706h2v1h-2zM285 707h1v1h-1zM331 707h2v1h-2zM421 707h1v1h-1zM865 707h1v1h-1zM67 708h2v1h-2zM283 708h2v1h-2zM333 708h1v1h-1zM417 708h1v1h-1zM866 708h2v1h-2zM69 709h1v1h-1zM277 709h3v1h-3zM337 709h2v1h-2zM415 709h2v1h-2zM1131 709h1v1h-1zM1135 709h3v1h-3zM1141 709h3v1h-3zM1147 709h3v1h-3zM1153 709h2v1h-2zM267 710h1v1h-1zM271 710h3v1h-3zM339 710h1v1h-1zM409 710h3v1h-3zM871 710h2v1h-2zM1123 710h3v1h-3zM1129 710h2v1h-2zM1155 710h1v1h-1zM1159 710h2v1h-2zM73 711h2v1h-2zM253 711h3v1h-3zM259 711h3v1h-3zM265 711h2v1h-2zM343 711h2v1h-2zM405 711h1v1h-1zM873 711h1v1h-1zM1117 711h3v1h-3zM1161 711h1v1h-1zM75 712h1v1h-1zM235 712h3v1h-3zM241 712h3v1h-3zM247 712h3v1h-3zM345 712h1v1h-1zM403 712h2v1h-2zM877 712h3v1h-3zM1107 712h1v1h-1zM1111 712h3v1h-3zM1165 712h3v1h-3zM79 713h2v1h-2zM213 713h1v1h-1zM217 713h3v1h-3zM223 713h3v1h-3zM229 713h3v1h-3zM349 713h1v1h-1zM397 713h3v1h-3zM883 713h2v1h-2zM1099 713h3v1h-3zM1105 713h2v1h-2zM1171 713h2v1h-2zM81 714h1v1h-1zM211 714h2v1h-2zM350 714h2v1h-2zM393 714h1v1h-1zM885 714h1v1h-1zM889 714h2v1h-2zM1093 714h3v1h-3zM1173 714h1v1h-1zM85 715h1v1h-1zM205 715h3v1h-3zM355 715h2v1h-2zM391 715h2v1h-2zM891 715h1v1h-1zM895 715h3v1h-3zM1083 715h1v1h-1zM1087 715h3v1h-3zM1177 715h1v1h-1zM86 716h2v1h-2zM201 716h1v1h-1zM357 716h1v1h-1zM361 716h2v1h-2zM385 716h3v1h-3zM901 716h3v1h-3zM907 716h3v1h-3zM913 716h3v1h-3zM919 716h3v1h-3zM925 716h3v1h-3zM931 716h3v1h-3zM937 716h3v1h-3zM943 716h3v1h-3zM1075 716h3v1h-3zM1081 716h2v1h-2zM1178 716h2v1h-2zM199 717h2v1h-2zM363 717h1v1h-1zM367 717h3v1h-3zM373 717h3v1h-3zM379 717h3v1h-3zM949 717h3v1h-3zM1069 717h3v1h-3zM91 718h1v1h-1zM193 718h3v1h-3zM955 718h3v1h-3zM1065 718h1v1h-1zM1183 718h1v1h-1zM92 719h2v1h-2zM189 719h1v1h-1zM961 719h3v1h-3zM1059 719h1v1h-1zM1063 719h2v1h-2zM1184 719h2v1h-2zM187 720h2v1h-2zM967 720h2v1h-2zM1053 720h1v1h-1zM1057 720h2v1h-2zM97 721h1v1h-1zM182 721h2v1h-2zM969 721h1v1h-1zM1051 721h2v1h-2zM1189 721h1v1h-1zM98 722h2v1h-2zM181 722h1v1h-1zM973 722h3v1h-3zM1045 722h3v1h-3zM1190 722h2v1h-2zM177 723h1v1h-1zM979 723h2v1h-2zM1041 723h1v1h-1zM103 724h2v1h-2zM175 724h2v1h-2zM981 724h1v1h-1zM985 724h2v1h-2zM1039 724h2v1h-2zM1195 724h1v1h-1zM105 725h1v1h-1zM169 725h3v1h-3zM987 725h1v1h-1zM991 725h3v1h-3zM1033 725h3v1h-3zM1196 725h2v1h-2zM109 726h1v1h-1zM165 726h1v1h-1zM997 726h3v1h-3zM1027 726h3v1h-3zM110 727h2v1h-2zM163 727h2v1h-2zM1003 727h3v1h-3zM1009 727h2v1h-2zM1021 727h3v1h-3zM1201 727h1v1h-1zM115 728h2v1h-2zM157 728h3v1h-3zM1011 728h1v1h-1zM1015 728h3v1h-3zM1202 728h2v1h-2zM117 729h1v1h-1zM153 729h1v1h-1zM121 730h3v1h-3zM147 730h1v1h-1zM151 730h2v1h-2zM1207 730h2v1h-2zM127 731h3v1h-3zM139 731h3v1h-3zM145 731h2v1h-2zM1209 731h1v1h-1zM133 732h3v1h-3zM1213 732h1v1h-1zM1214 733h2v1h-2zM1219 735h3v1h-3zM1225 737h2v1h-2zM1227 738h1v1h-1zM1231 739h2v1h-2zM1233 740h1v1h-1zM1237 741h3v1h-3zM1243 742h3v1h-3z" fill="#ff0000" shape-rendering="crispEdges"/></g><g fill="#000" shape-rendering="crispEdges"><rect x="7" y="750" width="1" height="3"/><rect x="71" y="750" width="1" height="3"/><rect x="135" y="750" width="1" height="3"/><rect x="199" y="750" width="1" height="3"/><rect x="263" y="750" width="1" height="3"/><rect x="327" y="750" width="1" height="3"/><rect x="391" y="750" width="1" height="3"/><rect x="455" y="750" width="1" height="3"/><rect x="519" y="750" width="1" height="3"/><rect x="583" y="750" width="1" height="3"/><rect x="647" y="750" width="1" height="3"/><rect x="711" y="750" width="1" height="3"/><rect x="775" y="750" width="1" height="3"/><rect x="839" y="750" width="1" height="3"/><rect x="903" y="750" width="1" height="3"/><rect x="967" y="750" width="1" height="3"/><rect x="1031" y="750" width="1" height="3"/><rect x="1095" y="750" width="1" height="3"/><rect x="1159" y="750" width="1" height="3"/><rect x="1223" y="750" width="1" height="3"/></g><g font-family='"Liberation Sans", Arial, sans-serif' font-size="10" letter-spacing="-0.35" fill="#000"><text x="6.6" y="762">15 Sep 2020</text><text x="70.6" y="762">24 Sep 2020</text><text x="134.6" y="762">3 Oct 2020</text><text x="198.6" y="762">13 Oct 2020</text><text x="262.6" y="762">22 Oct 2020</text><text x="326.6" y="762">31 Oct 2020</text><text x="390.6" y="762">10 Nov 2020</text><text x="454.6" y="762">19 Nov 2020</text><text x="518.6" y="762">28 Nov 2020</text><text x="582.6" y="762">8 Dec 2020</text><text x="646.6" y="762">17 Dec 2020</text><text x="710.6" y="762">28 Dec 2020</text><text x="774.6" y="762">7 Jan 2021</text><text x="838.6" y="762">16 Jan 2021</text><text x="902.6" y="762">26 Jan 2021</text><text x="966.6" y="762">4 Feb 2021</text><text x="1030.6" y="762">13 Feb 2021</text><text x="1094.6" y="762">23 Feb 2021</text><text x="1158.6" y="762">4 Mar 2021</text><text x="1222.6" y="762">13 Mar 2021</text></g></svg></body></html>
